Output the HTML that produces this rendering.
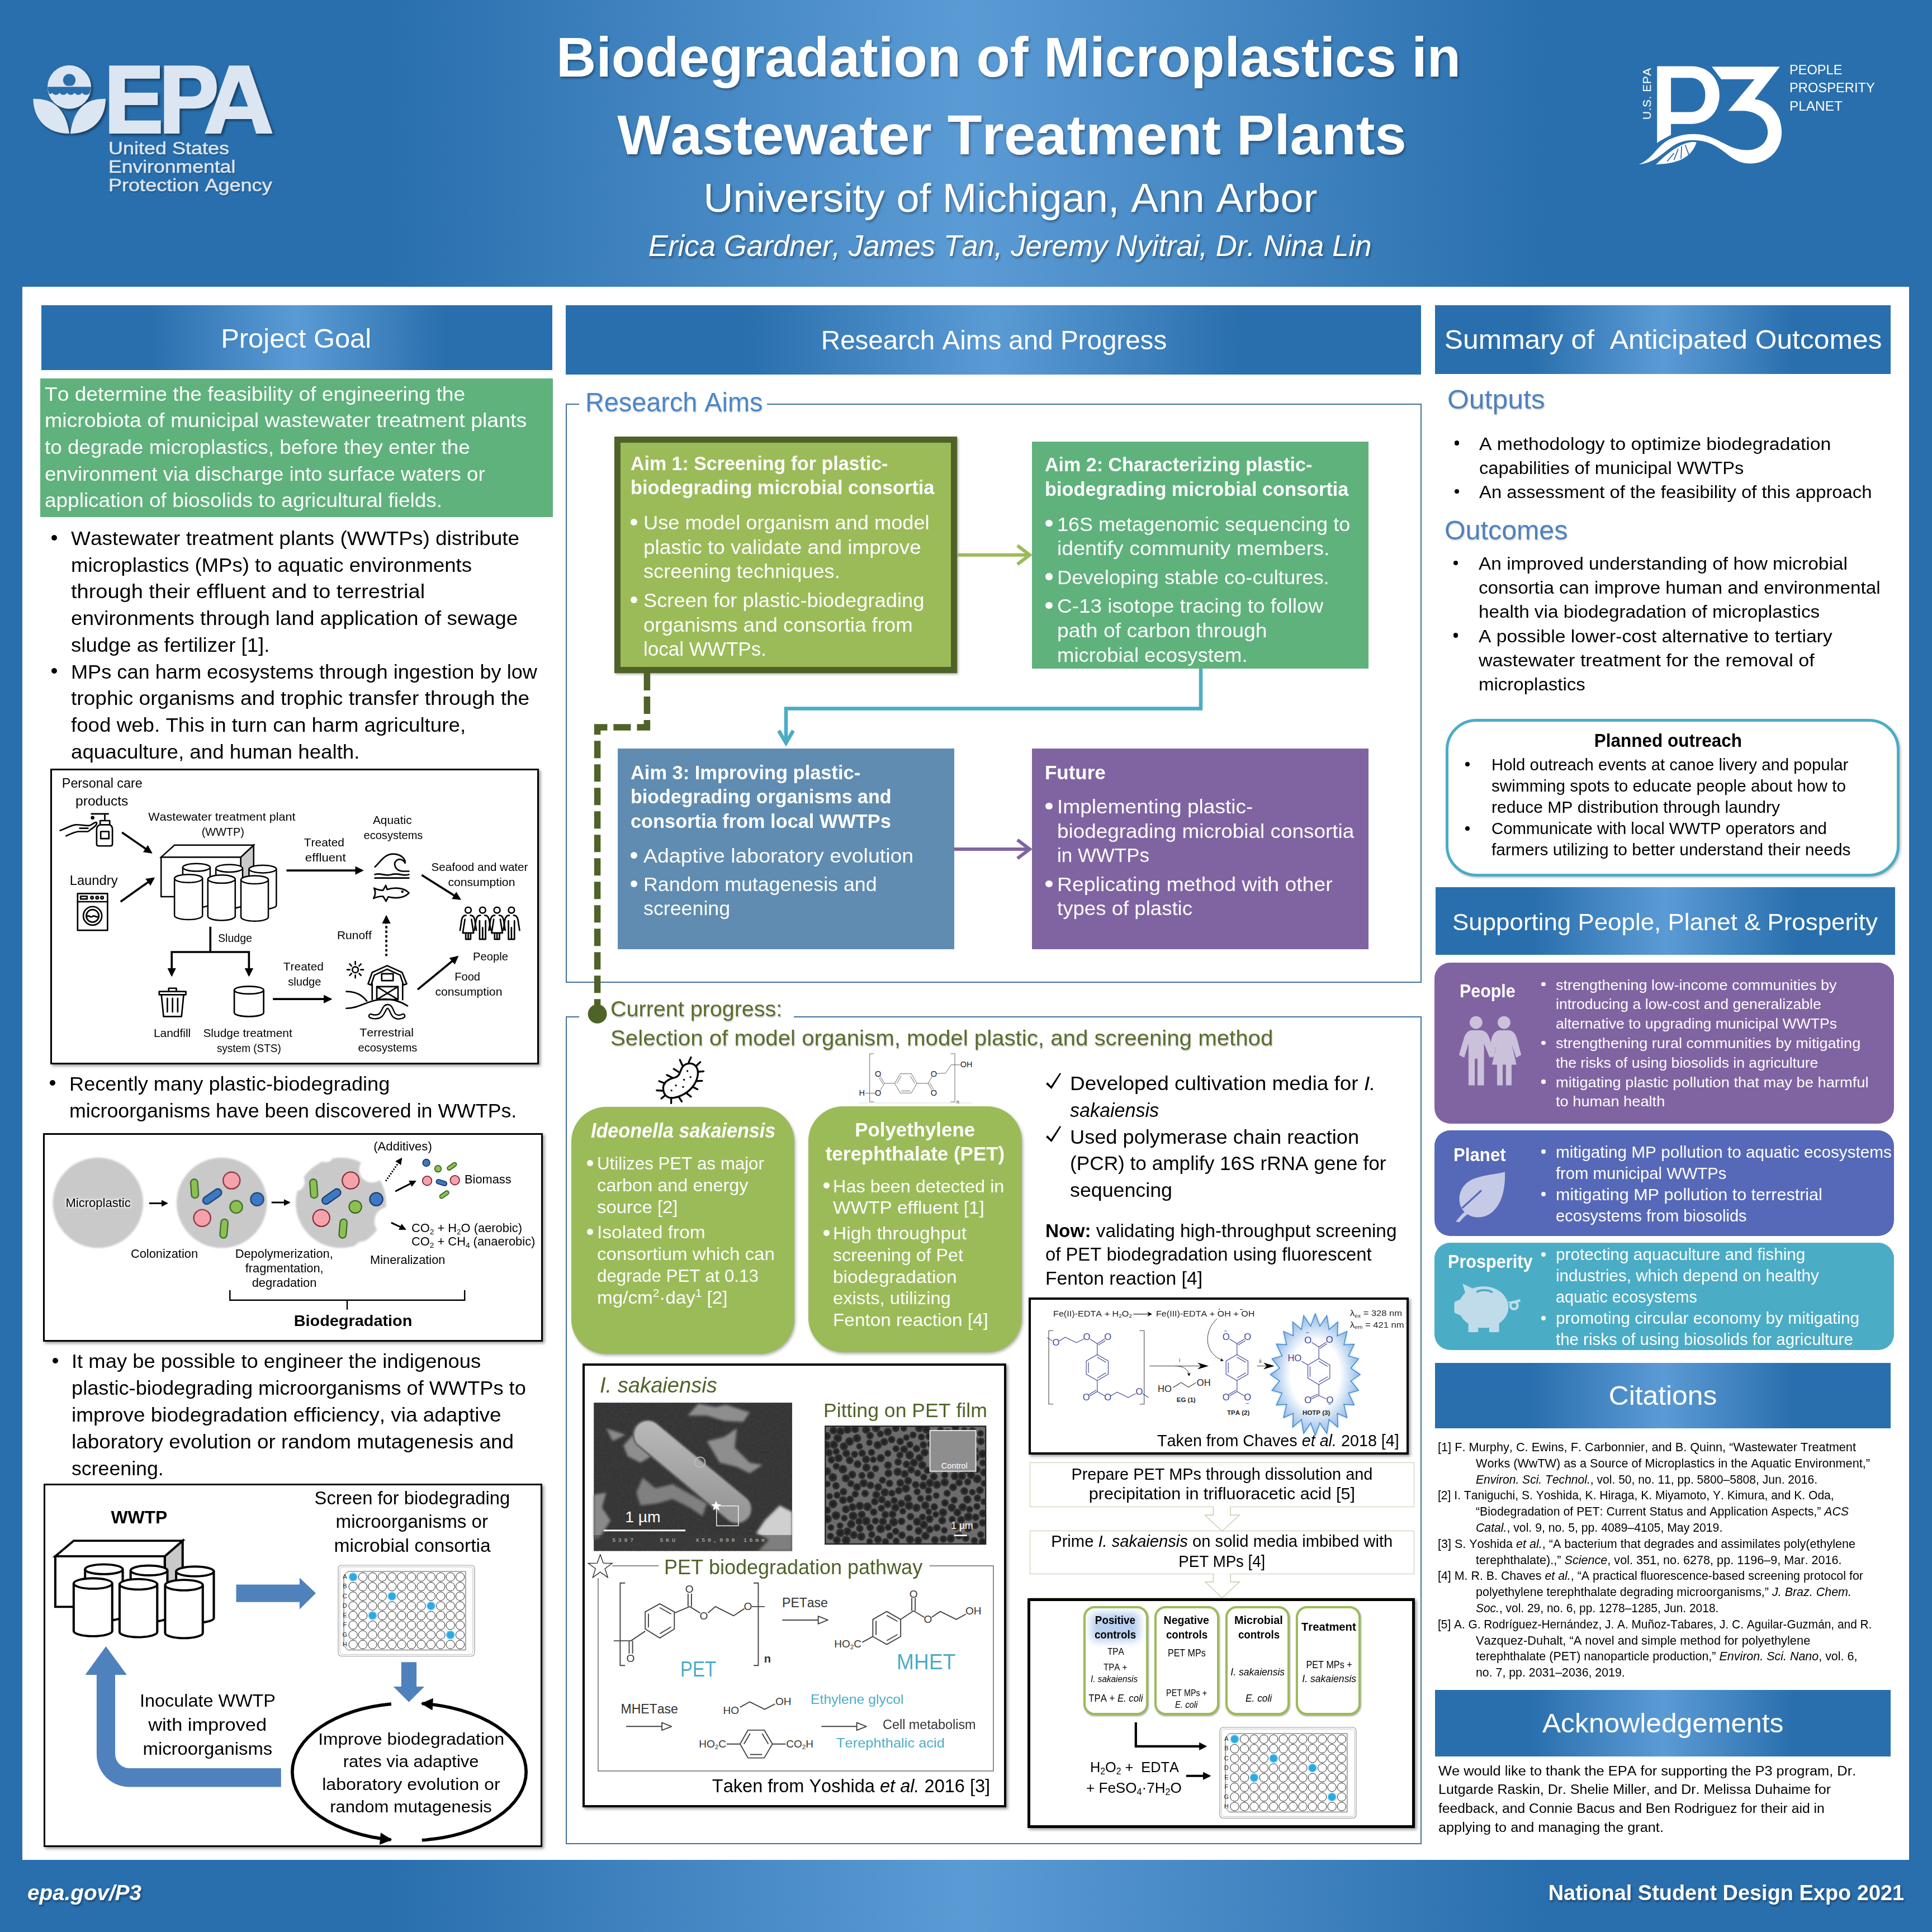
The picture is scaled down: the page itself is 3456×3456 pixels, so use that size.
<!DOCTYPE html>
<html><head><meta charset="utf-8"><title>Poster</title><style>html,body{margin:0;padding:0}
body{width:3456px;height:3456px;position:relative;overflow:hidden;background:linear-gradient(90deg,#296fad 0%,#296fad 20%,#5b9bd5 50%,#296fad 80%,#296fad 100%);font-family:"Liberation Sans",sans-serif;font-kerning:none}
.t{position:absolute;white-space:pre;margin:0}
.b{position:absolute;box-sizing:border-box}
</style></head><body>
<div class="b" style="left:40.0px;top:513.0px;width:3375.0px;height:2814.0px;background:#fff;"></div>
<div class="t " style="left:977.9px;top:37.0px;font-size:100.80px;line-height:131px;color:#fff;transform:scaleX(0.9793);transform-origin:center center;font-weight:bold;text-shadow:2px 3px 4px rgba(0,0,0,.38);">Biodegradation of Microplastics in</div>
<div class="t " style="left:1106.6px;top:175.6px;font-size:100.80px;line-height:131px;color:#fff;transform:scaleX(1.0038);transform-origin:center center;font-weight:bold;text-shadow:2px 3px 4px rgba(0,0,0,.38);">Wastewater Treatment Plants</div>
<div class="t " style="left:1272.8px;top:307.1px;font-size:72.00px;line-height:94px;color:#fff;transform:scaleX(1.0278);transform-origin:center center;text-shadow:2px 3px 4px rgba(0,0,0,.38);">University of Michigan, Ann Arbor</div>
<div class="t " style="left:1145.3px;top:403.7px;font-size:54.00px;line-height:70px;color:#fff;transform:scaleX(0.9776);transform-origin:center center;font-style:italic;text-shadow:2px 3px 4px rgba(0,0,0,.38);">Erica Gardner, James Tan, Jeremy Nyitrai, Dr. Nina Lin</div>
<div class="t " style="left:49.0px;top:3360.2px;font-size:39.60px;line-height:51px;color:#fff;transform:scaleX(0.9764);transform-origin:left center;font-weight:bold;font-style:italic;text-shadow:2px 3px 4px rgba(0,0,0,.38);">epa.gov/P3</div>
<div class="t " style="left:2741.9px;top:3360.0px;font-size:39.60px;line-height:51px;color:#fff;transform:scaleX(0.9583);transform-origin:right center;font-weight:bold;text-shadow:2px 3px 4px rgba(0,0,0,.38);">National Student Design Expo 2021</div>
<div class="b" style="left:73.7px;top:546.3px;width:914.1px;height:115.9px;background:linear-gradient(90deg,#296fad 0%,#296fad 21%,#5b9bd5 50%,#296fad 79%,#296fad 100%);"></div>
<div class="t " style="left:396.3px;top:574.4px;font-size:48.60px;line-height:63px;color:#fff;transform:scaleX(1.0056);transform-origin:center center;">Project Goal</div>
<div class="b" style="left:1012.0px;top:546.0px;width:1530.0px;height:123.8px;background:linear-gradient(90deg,#296fad 0%,#296fad 21%,#5b9bd5 50%,#296fad 79%,#296fad 100%);"></div>
<div class="t " style="left:1462.3px;top:576.7px;font-size:48.60px;line-height:63px;color:#fff;transform:scaleX(0.9784);transform-origin:center center;">Research Aims and Progress</div>
<div class="b" style="left:2566.8px;top:546.3px;width:815.6px;height:123.0px;background:linear-gradient(90deg,#296fad 0%,#296fad 21%,#5b9bd5 50%,#296fad 79%,#296fad 100%);"></div>
<div class="t " style="left:2593.1px;top:576.2px;font-size:48.60px;line-height:63px;color:#fff;transform:scaleX(1.0239);transform-origin:center center;">Summary of  Anticipated Outcomes</div>
<div class="b" style="left:2567.6px;top:1587.1px;width:822.2px;height:120.5px;background:linear-gradient(90deg,#296fad 0%,#296fad 21%,#5b9bd5 50%,#296fad 79%,#296fad 100%);"></div>
<div class="t " style="left:2604.4px;top:1620.8px;font-size:43.20px;line-height:56px;color:#fff;transform:scaleX(1.0159);transform-origin:center center;">Supporting People, Planet &amp; Prosperity</div>
<div class="b" style="left:2567.3px;top:2438.3px;width:814.5px;height:116.9px;background:linear-gradient(90deg,#296fad 0%,#296fad 21%,#5b9bd5 50%,#296fad 79%,#296fad 100%);"></div>
<div class="t " style="left:2880.1px;top:2465.4px;font-size:48.60px;line-height:63px;color:#fff;transform:scaleX(1.0238);transform-origin:center center;">Citations</div>
<div class="b" style="left:2567.3px;top:3023.0px;width:814.5px;height:118.7px;background:linear-gradient(90deg,#296fad 0%,#296fad 21%,#5b9bd5 50%,#296fad 79%,#296fad 100%);"></div>
<div class="t " style="left:2763.9px;top:3051.3px;font-size:48.60px;line-height:63px;color:#fff;transform:scaleX(1.0241);transform-origin:center center;">Acknowledgements</div>
<svg class="b" style="left:40.0px;top:80.0px;filter:drop-shadow(3px 3px 2px rgba(0,0,0,.45));" width="480.0" height="280.0" viewBox="0 0 480.0 280.0"><g transform="scale(0.24845)" fill="#dce6f2">
<circle cx="338" cy="305" r="157"/>
<path d="M78 390C200 385 310 440 338 640C180 640 80 540 78 390Z"/>
<path d="M600 390C478 385 372 440 345 640C500 640 598 540 600 390Z"/>
<g fill="#2a6dab"><circle cx="338" cy="255" r="45"/>
<path d="M182 302H494C494 318 490 335 484 348C472 366 442 366 430 345C418 366 388 366 376 345C364 366 334 366 322 345C310 366 280 366 268 345C256 366 226 366 214 345C205 360 195 355 190 345C185 330 182 315 182 302Z"/></g>
<rect x="181" y="296" width="314" height="7" />
<path d="M625 150H990V245H738V345H975V435H738V545H997V640H625Z"/>
<path d="M1020 150H1240C1350 150 1400 215 1400 305C1400 395 1350 460 1240 460H1132V640H1020ZM1132 240V372H1225C1270 372 1288 345 1288 306C1288 267 1270 240 1225 240Z" fill-rule="evenodd"/>
<path d="M1488 150H1632L1802 640H1683L1652 535H1462L1430 640H1313ZM1558 262L1490 445H1624Z" fill-rule="evenodd"/>
</g></svg>
<div class="t " style="left:193.5px;top:245.8px;font-size:31.00px;line-height:40px;color:#dce6f2;transform:scaleX(1.1611);transform-origin:left center;text-shadow:1px 2px 2px rgba(0,0,0,.3);-webkit-text-stroke:.5px #dce6f2;">United States</div>
<div class="t " style="left:193.5px;top:279.3px;font-size:31.00px;line-height:40px;color:#dce6f2;transform:scaleX(1.1470);transform-origin:left center;text-shadow:1px 2px 2px rgba(0,0,0,.3);-webkit-text-stroke:.5px #dce6f2;">Environmental</div>
<div class="t " style="left:193.5px;top:311.7px;font-size:31.00px;line-height:40px;color:#dce6f2;transform:scaleX(1.1633);transform-origin:left center;text-shadow:1px 2px 2px rgba(0,0,0,.3);-webkit-text-stroke:.5px #dce6f2;">Protection Agency</div>
<svg class="b" style="left:2920.0px;top:90.0px;" width="480.0" height="230.0" viewBox="0 0 480.0 230.0"><g transform="scale(0.24845)" fill="#fff" stroke="none">
<path d="M178 115H425C550 115 627 205 627 322C627 440 550 530 425 530H278V610C240 630 200 650 178 668ZM278 198V445H420C485 445 525 395 525 322C525 250 485 198 420 198Z" fill-rule="evenodd"/>
<path d="M572 118H1062L880 352C990 362 1075 460 1075 590C1075 720 975 815 850 815C720 815 680 720 560 670C470 635 360 640 290 690C210 745 160 810 45 822C150 780 170 690 270 640C380 590 500 590 600 640C700 690 740 718 830 718C910 718 975 665 975 590C975 500 900 440 800 436L690 436L880 208H640Z"/>
<path d="M170 822C300 815 420 790 462 662C400 650 300 690 170 822Z"/>
<g stroke="#2a6dab" stroke-width="7" fill="none"><path d="M250 800L300 740M300 790L330 710M350 780L355 690M410 760L380 680"/></g>
</g></svg>
<div class="t" style="left:2934px;top:214px;font-size:21px;line-height:24px;color:#fff;transform:rotate(-90deg);transform-origin:left top;letter-spacing:.5px;">U.S. EPA</div>
<div class="t " style="left:3200.7px;top:109.9px;font-size:23.50px;line-height:31px;color:#fff;transform:scaleX(1.0037);transform-origin:left center;">PEOPLE</div>
<div class="t " style="left:3200.7px;top:142.2px;font-size:23.50px;line-height:31px;color:#fff;transform:scaleX(1.0087);transform-origin:left center;">PROSPERITY</div>
<div class="t " style="left:3200.7px;top:175.0px;font-size:23.50px;line-height:31px;color:#fff;transform:scaleX(1.0380);transform-origin:left center;">PLANET</div>
<div class="b" style="left:71.6px;top:676.6px;width:917.3px;height:248.7px;background:#5fb27c;"></div>
<div class="t " style="left:79.7px;top:681.7px;font-size:35.64px;line-height:46px;color:#fff;transform:scaleX(1.0433);transform-origin:left center;">To determine the feasibility of engineering the</div>
<div class="t " style="left:79.7px;top:729.3px;font-size:35.64px;line-height:46px;color:#fff;transform:scaleX(1.0517);transform-origin:left center;">microbiota of municipal wastewater treatment plants</div>
<div class="t " style="left:79.7px;top:777.0px;font-size:35.64px;line-height:46px;color:#fff;transform:scaleX(1.0354);transform-origin:left center;">to degrade microplastics, before they enter the</div>
<div class="t " style="left:79.7px;top:824.6px;font-size:35.64px;line-height:46px;color:#fff;transform:scaleX(1.0278);transform-origin:left center;">environment via discharge into surface waters or</div>
<div class="t " style="left:79.7px;top:872.3px;font-size:35.64px;line-height:46px;color:#fff;transform:scaleX(1.0377);transform-origin:left center;">application of biosolids to agricultural fields.</div>
<div class="b" style="left:92.0px;top:956.7px;width:10.0px;height:10.0px;border-radius:50%;background:#000;"></div>
<div class="b" style="left:92.0px;top:1195.2px;width:10.0px;height:10.0px;border-radius:50%;background:#000;"></div>
<div class="t " style="left:127.0px;top:940.0px;font-size:35.64px;line-height:46px;color:#000;transform:scaleX(1.0390);transform-origin:left center;">Wastewater treatment plants (WWTPs) distribute</div>
<div class="t " style="left:127.0px;top:987.7px;font-size:35.64px;line-height:46px;color:#000;transform:scaleX(1.0260);transform-origin:left center;">microplastics (MPs) to aquatic environments</div>
<div class="t " style="left:127.0px;top:1035.4px;font-size:35.64px;line-height:46px;color:#000;transform:scaleX(1.0656);transform-origin:left center;">through their effluent and to terrestrial</div>
<div class="t " style="left:127.0px;top:1083.1px;font-size:35.64px;line-height:46px;color:#000;transform:scaleX(1.0321);transform-origin:left center;">environments through land application of sewage</div>
<div class="t " style="left:127.0px;top:1130.8px;font-size:35.64px;line-height:46px;color:#000;transform:scaleX(1.0254);transform-origin:left center;">sludge as fertilizer [1].</div>
<div class="t " style="left:127.0px;top:1178.5px;font-size:35.64px;line-height:46px;color:#000;transform:scaleX(1.0149);transform-origin:left center;">MPs can harm ecosystems through ingestion by low</div>
<div class="t " style="left:127.0px;top:1226.2px;font-size:35.64px;line-height:46px;color:#000;transform:scaleX(1.0407);transform-origin:left center;">trophic organisms and trophic transfer through the</div>
<div class="t " style="left:127.0px;top:1273.9px;font-size:35.64px;line-height:46px;color:#000;transform:scaleX(1.0306);transform-origin:left center;">food web. This in turn can harm agriculture,</div>
<div class="t " style="left:127.0px;top:1321.6px;font-size:35.64px;line-height:46px;color:#000;transform:scaleX(1.0307);transform-origin:left center;">aquaculture, and human health.</div>
<div class="b" style="left:89.0px;top:1932.4px;width:10.0px;height:10.0px;border-radius:50%;background:#000;"></div>
<div class="t " style="left:124.2px;top:1915.7px;font-size:35.64px;line-height:46px;color:#000;transform:scaleX(1.0159);transform-origin:left center;">Recently many plastic-biodegrading</div>
<div class="t " style="left:124.2px;top:1963.5px;font-size:35.64px;line-height:46px;color:#000;transform:scaleX(1.0030);transform-origin:left center;">microorganisms have been discovered in WWTPs.</div>
<div class="b" style="left:94.0px;top:2429.1px;width:10.0px;height:10.0px;border-radius:50%;background:#000;"></div>
<div class="t " style="left:128.0px;top:2412.4px;font-size:35.64px;line-height:46px;color:#000;transform:scaleX(1.0214);transform-origin:left center;">It may be possible to engineer the indigenous</div>
<div class="t " style="left:128.0px;top:2460.3px;font-size:35.64px;line-height:46px;color:#000;transform:scaleX(1.0162);transform-origin:left center;">plastic-biodegrading microorganisms of WWTPs to</div>
<div class="t " style="left:128.0px;top:2508.2px;font-size:35.64px;line-height:46px;color:#000;transform:scaleX(1.0376);transform-origin:left center;">improve biodegradation efficiency, via adaptive</div>
<div class="t " style="left:128.0px;top:2556.1px;font-size:35.64px;line-height:46px;color:#000;transform:scaleX(1.0347);transform-origin:left center;">laboratory evolution or random mutagenesis and</div>
<div class="t " style="left:128.0px;top:2604.0px;font-size:35.64px;line-height:46px;color:#000;transform:scaleX(1.0021);transform-origin:left center;">screening.</div>
<div class="b" style="left:90.0px;top:1374.5px;width:874.0px;height:529.5px;border:3.5px solid #000;background:#fff;box-shadow:3px 3px 5px rgba(0,0,0,.4);"></div>
<div class="b" style="left:77.0px;top:2026.5px;width:893.5px;height:373.7px;border:3.5px solid #000;background:#fff;box-shadow:3px 3px 5px rgba(0,0,0,.4);"></div>
<div class="b" style="left:78.0px;top:2654.0px;width:891.5px;height:650.0px;border:3.5px solid #000;background:#fff;box-shadow:3px 3px 5px rgba(0,0,0,.4);"></div>
<svg class="b" style="left:60.0px;top:1360.0px;" width="940.0" height="560.0" viewBox="0 0 940.0 560.0"><g transform="scale(0.48655)"><defs><marker id="ah" viewBox="0 0 10 10" refX="8" refY="5" markerWidth="4.2" markerHeight="4.2" orient="auto-start-reverse"><path d="M0 0L10 5L0 10z"/></marker></defs><g transform="translate(61.66 164.42) scale(0.4682)"><g stroke-linejoin="miter"><path d="M1495 410L1597 315V600L1495 690Z" fill="#c9c9c9" stroke="#000" stroke-width="11"/><path d="M870 410L975 315H1597L1495 410Z" fill="#fff" stroke="#000" stroke-width="11"/><rect x="870" y="410" width="625" height="310" fill="#fff" stroke="#000" stroke-width="11"/><path d="M1040.0 490.0V775.0A107.5 30.0 0 0 0 1255.0 775.0V490.0" fill="#fff" stroke="#000" stroke-width="11.0"/><ellipse cx="1147.5" cy="490.0" rx="107.5" ry="30.0" fill="#fff" stroke="#000" stroke-width="11.0"/><path d="M1300.0 497.0V782.0A105.0 30.0 0 0 0 1510.0 782.0V497.0" fill="#fff" stroke="#000" stroke-width="11.0"/><ellipse cx="1405.0" cy="497.0" rx="105.0" ry="30.0" fill="#fff" stroke="#000" stroke-width="11.0"/><path d="M1560.0 503.0V788.0A107.5 30.0 0 0 0 1775.0 788.0V503.0" fill="#fff" stroke="#000" stroke-width="11.0"/><ellipse cx="1667.5" cy="503.0" rx="107.5" ry="30.0" fill="#fff" stroke="#000" stroke-width="11.0"/><path d="M975.0 577.0V868.0A110.0 32.0 0 0 0 1195.0 868.0V577.0" fill="#fff" stroke="#000" stroke-width="11.0"/><ellipse cx="1085.0" cy="577.0" rx="110.0" ry="32.0" fill="#fff" stroke="#000" stroke-width="11.0"/><path d="M1237.0 582.0V874.0A107.5 32.0 0 0 0 1452.0 874.0V582.0" fill="#fff" stroke="#000" stroke-width="11.0"/><ellipse cx="1344.5" cy="582.0" rx="107.5" ry="32.0" fill="#fff" stroke="#000" stroke-width="11.0"/><path d="M1497.0 587.0V880.0A107.5 32.0 0 0 0 1712.0 880.0V587.0" fill="#fff" stroke="#000" stroke-width="11.0"/><ellipse cx="1604.5" cy="587.0" rx="107.5" ry="32.0" fill="#fff" stroke="#000" stroke-width="11.0"/></g></g><g fill="none" stroke="#000" stroke-width="7.5" stroke-linecap="butt">
<path d="M325 265L432 339" marker-end="url(#ah)"/><path d="M320 520L441 434" marker-end="url(#ah)"/>
<path d="M930 405H1208" marker-end="url(#ah)"/><path d="M1427 422L1567 510" marker-end="url(#ah)"/>
<path d="M880 878H1092" marker-end="url(#ah)"/><path d="M1412 843L1558 723" marker-end="url(#ah)"/>
<path d="M650 612V705M508 789V705H792V789" /><path d="M508 780V790" marker-end="url(#ah)"/><path d="M792 780V790" marker-end="url(#ah)"/>
<path d="M1297 720V590" stroke-dasharray="9 8"/><path d="M1297 590V575" marker-end="url(#ah)"/>
</g>
<g fill="none" stroke="#000" stroke-width="5.5" stroke-linecap="round" stroke-linejoin="round">
<!-- soap -->
<path d="M213 197H275M262 197V222M245 222H280V237H245ZM245 237C236 240 232 246 232 254V308Q232 315 239 315H283Q290 315 290 308V254C290 246 286 240 280 237M247 262H277V288H247Z"/>
<circle cx="217" cy="211" r="4" fill="#000"/>
<path d="M98 258C120 250 140 238 155 237C175 236 190 242 205 240C215 238 222 228 230 228C236 230 230 240 222 246L200 262H165C150 263 135 272 120 278M170 250H200"/>
<!-- washer -->
<rect x="162" y="490" width="110" height="135"/><path d="M162 520H272"/><rect x="173" y="500" width="24" height="10"/>
<circle cx="215" cy="505" r="4.5"/><circle cx="234" cy="505" r="4.5"/><circle cx="252" cy="505" r="4.5"/>
<circle cx="217" cy="572" r="34"/><circle cx="217" cy="572" r="23"/><path d="M196 574C203 566 210 582 217 574C224 566 231 582 238 574"/>
<!-- wave -->
<path d="M1255 392C1275 375 1290 340 1330 345C1355 348 1368 365 1366 378C1360 365 1345 360 1335 368C1320 380 1330 405 1355 408H1380M1255 420C1275 412 1295 428 1317 420C1340 412 1360 428 1380 420M1255 433H1380"/>
<!-- fish -->
<path d="M1380 488C1365 470 1330 465 1300 475L1295 460L1285 478C1275 478 1262 475 1252 470C1258 482 1258 494 1250 508C1262 502 1275 500 1285 500L1296 518L1304 502C1335 510 1365 505 1380 488Z"/><circle cx="1356" cy="483" r="2" fill="#000"/>
<!-- trash -->
<path d="M462 850H560V862H462ZM470 862L478 942H544L552 862M497 850V838H525V850M492 875V925M511 875V925M530 875V925"/>
<!-- STS cyl -->
<path d="M738 845V928A54 14 0 0 0 846 928V845"/><ellipse cx="792" cy="845" rx="54" ry="14"/>
<!-- farm -->
<circle cx="1183" cy="770" r="11"/><path d="M1183 750V740M1183 790V800M1163 770H1153M1203 770H1213M1169 756L1162 749M1197 756L1204 749M1169 784L1162 791M1197 784L1204 791"/>
<path d="M1230 822L1245 780L1300 755L1355 780L1372 822L1360 826L1348 790L1300 768L1253 790L1241 826ZM1245 822V880M1357 822V880M1280 785H1322V810H1280ZM1262 832H1340V880H1262ZM1262 832L1340 880M1340 832L1262 880"/>
<path d="M1150 850C1185 850 1210 865 1225 885M1150 912C1200 912 1230 880 1290 878C1330 878 1355 890 1375 903"/>
</g>
<path d="M1240 940C1250 945 1268 945 1278 935C1290 920 1290 905 1302 905C1315 905 1315 925 1325 937C1335 947 1350 945 1358 940" fill="none" stroke="#000" stroke-width="19" stroke-linecap="round"/>
<path d="M1240 940C1250 945 1268 945 1278 935C1290 920 1290 905 1302 905C1315 905 1315 925 1325 937C1335 947 1350 945 1358 940" fill="none" stroke="#fff" stroke-width="9" stroke-linecap="round"/>
<g fill="none" stroke="#000" stroke-width="5.5" stroke-linecap="round" stroke-linejoin="round"><circle cx="1598" cy="551" r="11"/><path d="M1590 570C1578 570 1574 580 1572 600L1568 625M1606 570C1618 570 1622 580 1624 600L1628 625M1586 585L1578 635H1618L1610 585M1589 635V658H1607V635M1598 635V658"/><circle cx="1651" cy="551" r="11"/><path d="M1643 570C1631 570 1627 580 1625 600L1621 625M1659 570C1671 570 1675 580 1677 600L1681 625M1640 590V658H1662V590M1651 615V658"/><circle cx="1704" cy="551" r="11"/><path d="M1696 570C1684 570 1680 580 1678 600L1674 625M1712 570C1724 570 1728 580 1730 600L1734 625M1692 585L1684 635H1724L1716 585M1695 635V658H1713V635M1704 635V658"/><circle cx="1757" cy="551" r="11"/><path d="M1749 570C1737 570 1733 580 1731 600L1727 625M1765 570C1777 570 1781 580 1783 600L1787 625M1746 590V658H1768V590M1757 615V658"/></g></g></svg>
<div class="t " style="left:109.9px;top:1386.4px;font-size:23.58px;line-height:31px;color:#000;transform:scaleX(0.9885);transform-origin:center center;">Personal care</div>
<div class="t " style="left:137.4px;top:1417.6px;font-size:23.58px;line-height:31px;color:#000;transform:scaleX(1.0432);transform-origin:center center;">products</div>
<div class="t " style="left:273.3px;top:1448.0px;font-size:20.25px;line-height:26px;color:#000;transform:scaleX(1.0633);transform-origin:center center;">Wastewater treatment plant</div>
<div class="t " style="left:360.3px;top:1474.8px;font-size:20.25px;line-height:26px;color:#000;transform:scaleX(0.9830);transform-origin:center center;">(WWTP)</div>
<div class="t " style="left:667.5px;top:1454.3px;font-size:20.25px;line-height:26px;color:#000;transform:scaleX(1.0312);transform-origin:center center;">Aquatic</div>
<div class="t " style="left:649.8px;top:1481.1px;font-size:20.25px;line-height:26px;color:#000;transform:scaleX(0.9903);transform-origin:center center;">ecosystems</div>
<div class="t " style="left:545.1px;top:1494.2px;font-size:20.25px;line-height:26px;color:#000;transform:scaleX(1.0333);transform-origin:center center;">Treated</div>
<div class="t " style="left:548.6px;top:1521.0px;font-size:20.25px;line-height:26px;color:#000;transform:scaleX(1.0971);transform-origin:center center;">effluent</div>
<div class="t " style="left:773.4px;top:1538.0px;font-size:20.25px;line-height:26px;color:#000;transform:scaleX(1.0163);transform-origin:center center;">Seafood and water</div>
<div class="t " style="left:803.5px;top:1564.8px;font-size:20.25px;line-height:26px;color:#000;transform:scaleX(1.0452);transform-origin:center center;">consumption</div>
<div class="t " style="left:124.9px;top:1560.1px;font-size:23.58px;line-height:31px;color:#000;transform:scaleX(1.0075);transform-origin:center center;">Laundry</div>
<div class="t " style="left:389.0px;top:1665.0px;font-size:20.25px;line-height:26px;color:#000;transform:scaleX(0.9663);transform-origin:center center;">Sludge</div>
<div class="t " style="left:603.5px;top:1659.6px;font-size:20.25px;line-height:26px;color:#000;transform:scaleX(1.0365);transform-origin:center center;">Runoff</div>
<div class="t " style="left:845.9px;top:1697.6px;font-size:20.25px;line-height:26px;color:#000;transform:scaleX(0.9970);transform-origin:center center;">People</div>
<div class="t " style="left:507.7px;top:1716.1px;font-size:20.25px;line-height:26px;color:#000;transform:scaleX(1.0333);transform-origin:center center;">Treated</div>
<div class="t " style="left:515.3px;top:1742.8px;font-size:20.25px;line-height:26px;color:#000;transform:scaleX(0.9953);transform-origin:center center;">sludge</div>
<div class="t " style="left:812.5px;top:1734.1px;font-size:20.25px;line-height:26px;color:#000;transform:scaleX(0.9942);transform-origin:center center;">Food</div>
<div class="t " style="left:781.1px;top:1761.3px;font-size:20.25px;line-height:26px;color:#000;transform:scaleX(1.0452);transform-origin:center center;">consumption</div>
<div class="t " style="left:275.6px;top:1834.8px;font-size:20.25px;line-height:26px;color:#000;transform:scaleX(1.0322);transform-origin:center center;">Landfill</div>
<div class="t " style="left:366.3px;top:1834.8px;font-size:20.25px;line-height:26px;color:#000;transform:scaleX(1.0339);transform-origin:center center;">Sludge treatment</div>
<div class="t " style="left:384.0px;top:1861.6px;font-size:20.25px;line-height:26px;color:#000;transform:scaleX(0.9367);transform-origin:center center;">system (STS)</div>
<div class="t " style="left:646.1px;top:1833.8px;font-size:20.25px;line-height:26px;color:#000;transform:scaleX(1.0612);transform-origin:center center;">Terrestrial</div>
<div class="t " style="left:639.5px;top:1860.6px;font-size:20.25px;line-height:26px;color:#000;transform:scaleX(0.9903);transform-origin:center center;">ecosystems</div>
<svg class="b" style="left:60.0px;top:1900.0px;" width="940.0" height="520.0" viewBox="0 0 940.0 520.0"><g transform="scale(0.48655)"><defs><filter id="sf" x="-10%" y="-10%" width="120%" height="120%"><feGaussianBlur stdDeviation="3"/></filter><marker id="ah" viewBox="0 0 10 10" refX="8" refY="5" markerWidth="4.2" markerHeight="4.2" orient="auto-start-reverse"><path d="M0 0L10 5L0 10z"/></marker>
<mask id="bite"><rect x="900" y="300" width="500" height="450" fill="#fff"/>
<circle cx="1245" cy="395" r="48" fill="#000"/><circle cx="1305" cy="585" r="52" fill="#000"/><circle cx="962" cy="440" r="35" fill="#000"/><circle cx="1215" cy="700" r="42" fill="#000"/><circle cx="1075" cy="340" r="28" fill="#000"/></mask></defs><g fill="#c9c9c9" filter="url(#sf)"><circle cx="237" cy="517" r="166"/><circle cx="692" cy="517" r="166"/><circle cx="1130" cy="517" r="166" mask="url(#bite)"/></g><rect x="579.0" y="430.0" width="26.0" height="70.0" rx="13.0" transform="rotate(-4 592.0 465.0)" fill="#8cc152" stroke="#2f5d1e" stroke-width="4.0"/><circle cx="728.0" cy="435.0" r="31.0" fill="#f5a3ab" stroke="#7d1d2b" stroke-width="4.0"/><rect x="643.0" y="455.0" width="28.0" height="78.0" rx="14.0" transform="rotate(55 657.0 494.0)" fill="#3b79c4" stroke="#17305e" stroke-width="4.0"/><circle cx="822.0" cy="504.0" r="24.0" fill="#3b79c4" stroke="#17305e" stroke-width="4.0"/><circle cx="745.0" cy="532.0" r="23.0" fill="#8cc152" stroke="#2f5d1e" stroke-width="4.0"/><circle cx="620.0" cy="573.0" r="31.0" fill="#f5a3ab" stroke="#7d1d2b" stroke-width="4.0"/><rect x="687.0" y="577.0" width="26.0" height="70.0" rx="13.0" transform="rotate(5 700.0 612.0)" fill="#8cc152" stroke="#2f5d1e" stroke-width="4.0"/><rect x="1017.0" y="430.0" width="26.0" height="70.0" rx="13.0" transform="rotate(-4 1030.0 465.0)" fill="#8cc152" stroke="#2f5d1e" stroke-width="4.0"/><circle cx="1166.0" cy="435.0" r="31.0" fill="#f5a3ab" stroke="#7d1d2b" stroke-width="4.0"/><rect x="1081.0" y="455.0" width="28.0" height="78.0" rx="14.0" transform="rotate(55 1095.0 494.0)" fill="#3b79c4" stroke="#17305e" stroke-width="4.0"/><circle cx="1260.0" cy="504.0" r="24.0" fill="#3b79c4" stroke="#17305e" stroke-width="4.0"/><circle cx="1183.0" cy="532.0" r="23.0" fill="#8cc152" stroke="#2f5d1e" stroke-width="4.0"/><circle cx="1058.0" cy="573.0" r="31.0" fill="#f5a3ab" stroke="#7d1d2b" stroke-width="4.0"/><rect x="1125.0" y="577.0" width="26.0" height="70.0" rx="13.0" transform="rotate(5 1138.0 612.0)" fill="#8cc152" stroke="#2f5d1e" stroke-width="4.0"/><g fill="none" stroke="#000" stroke-width="6"><path d="M425 519H490" marker-end="url(#ah)"/><path d="M875 516H940" marker-end="url(#ah)"/>
<path d="M1330 475L1403 438" marker-end="url(#ah)"/><path d="M1315 590L1366 614" marker-end="url(#ah)"/>
<path d="M1295 437L1343 368" stroke-dasharray="5 5"/><path d="M1343 368L1352 355" marker-end="url(#ah)"/>
<path d="M722 838V875H1585V838M1153 875V910" stroke-width="5"/></g><circle cx="1444.0" cy="370.0" r="13.0" fill="#3b79c4" stroke="#17305e" stroke-width="3.5"/><circle cx="1487.0" cy="392.0" r="12.0" fill="#8cc152" stroke="#2f5d1e" stroke-width="3.5"/><rect x="1531.0" y="364.0" width="14.0" height="38.0" rx="7.0" transform="rotate(55 1538.0 383.0)" fill="#8cc152" stroke="#2f5d1e" stroke-width="3.5"/><circle cx="1447.0" cy="436.0" r="17.0" fill="#f5a3ab" stroke="#7d1d2b" stroke-width="3.5"/><rect x="1492.0" y="423.0" width="16.0" height="40.0" rx="8.0" transform="rotate(-72 1500.0 443.0)" fill="#3b79c4" stroke="#17305e" stroke-width="3.5"/><circle cx="1549.0" cy="434.0" r="17.0" fill="#f5a3ab" stroke="#7d1d2b" stroke-width="3.5"/><rect x="1503.0" y="468.0" width="14.0" height="38.0" rx="7.0" transform="rotate(55 1510.0 487.0)" fill="#8cc152" stroke="#2f5d1e" stroke-width="3.5"/></g></svg>
<div class="t " style="left:117.8px;top:2138.3px;font-size:21.80px;line-height:28px;color:#000;transform:scaleX(1.0106);transform-origin:center center;text-shadow:0 0 4px #fff,0 0 4px #fff,0 0 6px #fff;">Microplastic</div>
<div class="t " style="left:233.6px;top:2228.8px;font-size:21.80px;line-height:28px;color:#000;transform:scaleX(1.0018);transform-origin:center center;">Colonization</div>
<div class="t " style="left:421.4px;top:2228.8px;font-size:21.80px;line-height:28px;color:#000;transform:scaleX(1.0041);transform-origin:center center;">Depolymerization,</div>
<div class="t " style="left:438.9px;top:2255.1px;font-size:21.80px;line-height:28px;color:#000;transform:scaleX(1.0053);transform-origin:center center;">fragmentation,</div>
<div class="t " style="left:451.0px;top:2280.9px;font-size:21.80px;line-height:28px;color:#000;transform:scaleX(1.0055);transform-origin:center center;">degradation</div>
<div class="t " style="left:661.8px;top:2240.0px;font-size:21.80px;line-height:28px;color:#000;transform:scaleX(0.9985);transform-origin:center center;">Mineralization</div>
<div class="t " style="left:668.8px;top:2037.1px;font-size:21.80px;line-height:28px;color:#000;transform:scaleX(1.0157);transform-origin:center center;">(Additives)</div>
<div class="t " style="left:831.2px;top:2095.5px;font-size:21.80px;line-height:28px;color:#000;transform:scaleX(1.0013);transform-origin:left center;">Biomass</div>
<div class="t " style="left:736.3px;top:2183.1px;font-size:21.80px;line-height:28px;color:#000;transform:scaleX(1.0033);transform-origin:left center;">CO<span style="font-size:62%;position:relative;top:3.5px;">2</span> + H<span style="font-size:62%;position:relative;top:3.5px;">2</span>O (aerobic)</div>
<div class="t " style="left:736.3px;top:2207.4px;font-size:21.80px;line-height:28px;color:#000;transform:scaleX(1.0046);transform-origin:left center;">CO<span style="font-size:62%;position:relative;top:3.5px;">2</span> + CH<span style="font-size:62%;position:relative;top:3.5px;">4</span> (anaerobic)</div>
<div class="t " style="left:527.2px;top:2344.1px;font-size:28.50px;line-height:37px;color:#000;transform:scaleX(1.0124);transform-origin:center center;font-weight:bold;">Biodegradation</div>
<svg class="b" style="left:60.0px;top:2400.0px;" width="940.0" height="920.0" viewBox="0 0 940.0 920.0"><g transform="scale(0.48655)"><defs><marker id="ah" viewBox="0 0 10 10" refX="8" refY="5" markerWidth="4.2" markerHeight="4.2" orient="auto-start-reverse"><path d="M0 0L10 5L0 10z"/></marker></defs><g transform="translate(-480.3 543.1) scale(0.644 0.5997)"><g stroke-linejoin="miter"><path d="M1495 410L1597 315V600L1495 690Z" fill="#c9c9c9" stroke="#000" stroke-width="13"/><path d="M870 410L975 315H1597L1495 410Z" fill="#fff" stroke="#000" stroke-width="13"/><rect x="870" y="410" width="625" height="310" fill="#fff" stroke="#000" stroke-width="13"/><path d="M1040.0 490.0V775.0A107.5 30.0 0 0 0 1255.0 775.0V490.0" fill="#fff" stroke="#000" stroke-width="13.0"/><ellipse cx="1147.5" cy="490.0" rx="107.5" ry="30.0" fill="#fff" stroke="#000" stroke-width="13.0"/><path d="M1300.0 497.0V782.0A105.0 30.0 0 0 0 1510.0 782.0V497.0" fill="#fff" stroke="#000" stroke-width="13.0"/><ellipse cx="1405.0" cy="497.0" rx="105.0" ry="30.0" fill="#fff" stroke="#000" stroke-width="13.0"/><path d="M1560.0 503.0V788.0A107.5 30.0 0 0 0 1775.0 788.0V503.0" fill="#fff" stroke="#000" stroke-width="13.0"/><ellipse cx="1667.5" cy="503.0" rx="107.5" ry="30.0" fill="#fff" stroke="#000" stroke-width="13.0"/><path d="M975.0 577.0V868.0A110.0 32.0 0 0 0 1195.0 868.0V577.0" fill="#fff" stroke="#000" stroke-width="13.0"/><ellipse cx="1085.0" cy="577.0" rx="110.0" ry="32.0" fill="#fff" stroke="#000" stroke-width="13.0"/><path d="M1237.0 582.0V874.0A107.5 32.0 0 0 0 1452.0 874.0V582.0" fill="#fff" stroke="#000" stroke-width="13.0"/><ellipse cx="1344.5" cy="582.0" rx="107.5" ry="32.0" fill="#fff" stroke="#000" stroke-width="13.0"/><path d="M1497.0 587.0V880.0A107.5 32.0 0 0 0 1712.0 880.0V587.0" fill="#fff" stroke="#000" stroke-width="13.0"/><ellipse cx="1604.5" cy="587.0" rx="107.5" ry="32.0" fill="#fff" stroke="#000" stroke-width="13.0"/></g></g><path d="M745 893H978V868L1038 925L978 984V957H745Z" fill="#4f81bd"/><path d="M1352 1178H1408V1268H1437L1380 1325L1323 1268H1352Z" fill="#4f81bd"/><path d="M910 1568H352A52 52 0 0 1 300 1516V1225H343L266 1120L190 1225H232V1516A120 120 0 0 0 352 1637H910Z" fill="#4f81bd"/><g fill="none" stroke="#000" stroke-width="11.7">
<path d="M1315.0 1332.0A429.8 252.6 0 0 0 1314.0 1831.1" marker-end="url(#ah2)"/><path d="M1428.0 1832.7A429.8 252.6 0 0 0 1428.0 1330.5" marker-end="url(#ah2)"/></g>
<defs><marker id="ah2" viewBox="0 0 10 10" refX="9" refY="5" markerWidth="4.2" markerHeight="3.8" orient="auto"><path d="M0 0L10 5L0 10z"/></marker></defs></g></svg>
<div class="t " style="left:197.9px;top:2692.9px;font-size:32.13px;line-height:42px;color:#000;transform:scaleX(0.9917);transform-origin:center center;font-weight:bold;">WWTP</div>
<div class="t " style="left:564.8px;top:2658.8px;font-size:32.31px;line-height:42px;color:#000;transform:scaleX(1.0138);transform-origin:center center;">Screen for biodegrading</div>
<div class="t " style="left:604.4px;top:2701.3px;font-size:32.31px;line-height:42px;color:#000;transform:scaleX(1.0255);transform-origin:center center;">microorganisms or</div>
<div class="t " style="left:602.6px;top:2743.9px;font-size:32.31px;line-height:42px;color:#000;transform:scaleX(1.0400);transform-origin:center center;">microbial consortia</div>
<div class="t " style="left:250.9px;top:3021.3px;font-size:32.13px;line-height:42px;color:#000;transform:scaleX(1.0076);transform-origin:center center;">Inoculate WWTP</div>
<div class="t " style="left:272.3px;top:3064.4px;font-size:32.13px;line-height:42px;color:#000;transform:scaleX(1.0690);transform-origin:center center;">with improved</div>
<div class="t " style="left:258.0px;top:3107.4px;font-size:32.13px;line-height:42px;color:#000;transform:scaleX(1.0216);transform-origin:center center;">microorganisms</div>
<div class="t " style="left:575.5px;top:3089.5px;font-size:30.42px;line-height:40px;color:#000;transform:scaleX(1.0420);transform-origin:center center;">Improve biodegradation</div>
<div class="t " style="left:616.1px;top:3130.1px;font-size:30.42px;line-height:40px;color:#000;transform:scaleX(1.0188);transform-origin:center center;">rates via adaptive</div>
<div class="t " style="left:584.8px;top:3170.6px;font-size:30.42px;line-height:40px;color:#000;transform:scaleX(1.0589);transform-origin:center center;">laboratory evolution or</div>
<div class="t " style="left:593.3px;top:3211.1px;font-size:30.42px;line-height:40px;color:#000;transform:scaleX(1.0200);transform-origin:center center;">random mutagenesis</div>
<svg class="b" style="left:604.0px;top:2799.0px;" width="246.0" height="164.5" viewBox="0 0 246.0 164.5"><rect x="1" y="1" width="244.0" height="162.5" rx="6" fill="#fff" stroke="#9a9a9a" stroke-width="1.2"/><rect x="4" y="4" width="238.0" height="156.5" rx="5" fill="none" stroke="#bdbdbd" stroke-width="1"/><path d="M11.0 20.0V144.5L18.0 152.5H229.0V12.0H18.0Z" fill="#fff" stroke="#555" stroke-width="1"/><text x="12.8" y="25.1" font-size="11" fill="#222" text-anchor="middle" font-family="Liberation Sans">A</text><circle cx="27.6" cy="21.9" r="7.3" fill="#29abe2" stroke="#8fd3f0" stroke-width="1.6"/><circle cx="45.0" cy="21.9" r="7.7" fill="#fff" stroke="#222" stroke-width="1"/><circle cx="62.4" cy="21.9" r="7.7" fill="#fff" stroke="#222" stroke-width="1"/><circle cx="79.8" cy="21.9" r="7.7" fill="#fff" stroke="#222" stroke-width="1"/><circle cx="97.2" cy="21.9" r="7.7" fill="#fff" stroke="#222" stroke-width="1"/><circle cx="114.6" cy="21.9" r="7.7" fill="#fff" stroke="#222" stroke-width="1"/><circle cx="132.1" cy="21.9" r="7.7" fill="#fff" stroke="#222" stroke-width="1"/><circle cx="149.5" cy="21.9" r="7.7" fill="#fff" stroke="#222" stroke-width="1"/><circle cx="166.9" cy="21.9" r="7.7" fill="#fff" stroke="#222" stroke-width="1"/><circle cx="184.3" cy="21.9" r="7.7" fill="#fff" stroke="#222" stroke-width="1"/><circle cx="201.7" cy="21.9" r="7.7" fill="#fff" stroke="#222" stroke-width="1"/><circle cx="219.1" cy="21.9" r="7.7" fill="#fff" stroke="#222" stroke-width="1"/><text x="12.8" y="42.4" font-size="11" fill="#222" text-anchor="middle" font-family="Liberation Sans">B</text><circle cx="27.6" cy="39.2" r="7.7" fill="#fff" stroke="#222" stroke-width="1"/><circle cx="45.0" cy="39.2" r="7.7" fill="#fff" stroke="#222" stroke-width="1"/><circle cx="62.4" cy="39.2" r="7.7" fill="#fff" stroke="#222" stroke-width="1"/><circle cx="79.8" cy="39.2" r="7.7" fill="#fff" stroke="#222" stroke-width="1"/><circle cx="97.2" cy="39.2" r="7.7" fill="#fff" stroke="#222" stroke-width="1"/><circle cx="114.6" cy="39.2" r="7.7" fill="#fff" stroke="#222" stroke-width="1"/><circle cx="132.1" cy="39.2" r="7.7" fill="#fff" stroke="#222" stroke-width="1"/><circle cx="149.5" cy="39.2" r="7.7" fill="#fff" stroke="#222" stroke-width="1"/><circle cx="166.9" cy="39.2" r="7.7" fill="#fff" stroke="#222" stroke-width="1"/><circle cx="184.3" cy="39.2" r="7.7" fill="#fff" stroke="#222" stroke-width="1"/><circle cx="201.7" cy="39.2" r="7.7" fill="#fff" stroke="#222" stroke-width="1"/><circle cx="219.1" cy="39.2" r="7.7" fill="#fff" stroke="#222" stroke-width="1"/><text x="12.8" y="59.6" font-size="11" fill="#222" text-anchor="middle" font-family="Liberation Sans">C</text><circle cx="27.6" cy="56.4" r="7.7" fill="#fff" stroke="#222" stroke-width="1"/><circle cx="45.0" cy="56.4" r="7.7" fill="#fff" stroke="#222" stroke-width="1"/><circle cx="62.4" cy="56.4" r="7.7" fill="#fff" stroke="#222" stroke-width="1"/><circle cx="79.8" cy="56.4" r="7.7" fill="#fff" stroke="#222" stroke-width="1"/><circle cx="97.2" cy="56.4" r="7.3" fill="#29abe2" stroke="#8fd3f0" stroke-width="1.6"/><circle cx="114.6" cy="56.4" r="7.7" fill="#fff" stroke="#222" stroke-width="1"/><circle cx="132.1" cy="56.4" r="7.7" fill="#fff" stroke="#222" stroke-width="1"/><circle cx="149.5" cy="56.4" r="7.7" fill="#fff" stroke="#222" stroke-width="1"/><circle cx="166.9" cy="56.4" r="7.7" fill="#fff" stroke="#222" stroke-width="1"/><circle cx="184.3" cy="56.4" r="7.7" fill="#fff" stroke="#222" stroke-width="1"/><circle cx="201.7" cy="56.4" r="7.7" fill="#fff" stroke="#222" stroke-width="1"/><circle cx="219.1" cy="56.4" r="7.7" fill="#fff" stroke="#222" stroke-width="1"/><text x="12.8" y="76.9" font-size="11" fill="#222" text-anchor="middle" font-family="Liberation Sans">D</text><circle cx="27.6" cy="73.7" r="7.7" fill="#fff" stroke="#222" stroke-width="1"/><circle cx="45.0" cy="73.7" r="7.7" fill="#fff" stroke="#222" stroke-width="1"/><circle cx="62.4" cy="73.7" r="7.7" fill="#fff" stroke="#222" stroke-width="1"/><circle cx="79.8" cy="73.7" r="7.7" fill="#fff" stroke="#222" stroke-width="1"/><circle cx="97.2" cy="73.7" r="7.7" fill="#fff" stroke="#222" stroke-width="1"/><circle cx="114.6" cy="73.7" r="7.7" fill="#fff" stroke="#222" stroke-width="1"/><circle cx="132.1" cy="73.7" r="7.7" fill="#fff" stroke="#222" stroke-width="1"/><circle cx="149.5" cy="73.7" r="7.7" fill="#fff" stroke="#222" stroke-width="1"/><circle cx="166.9" cy="73.7" r="7.3" fill="#29abe2" stroke="#8fd3f0" stroke-width="1.6"/><circle cx="184.3" cy="73.7" r="7.7" fill="#fff" stroke="#222" stroke-width="1"/><circle cx="201.7" cy="73.7" r="7.7" fill="#fff" stroke="#222" stroke-width="1"/><circle cx="219.1" cy="73.7" r="7.7" fill="#fff" stroke="#222" stroke-width="1"/><text x="12.8" y="94.2" font-size="11" fill="#222" text-anchor="middle" font-family="Liberation Sans">E</text><circle cx="27.6" cy="91.0" r="7.7" fill="#fff" stroke="#222" stroke-width="1"/><circle cx="45.0" cy="91.0" r="7.7" fill="#fff" stroke="#222" stroke-width="1"/><circle cx="62.4" cy="91.0" r="7.3" fill="#29abe2" stroke="#8fd3f0" stroke-width="1.6"/><circle cx="79.8" cy="91.0" r="7.7" fill="#fff" stroke="#222" stroke-width="1"/><circle cx="97.2" cy="91.0" r="7.7" fill="#fff" stroke="#222" stroke-width="1"/><circle cx="114.6" cy="91.0" r="7.7" fill="#fff" stroke="#222" stroke-width="1"/><circle cx="132.1" cy="91.0" r="7.7" fill="#fff" stroke="#222" stroke-width="1"/><circle cx="149.5" cy="91.0" r="7.7" fill="#fff" stroke="#222" stroke-width="1"/><circle cx="166.9" cy="91.0" r="7.7" fill="#fff" stroke="#222" stroke-width="1"/><circle cx="184.3" cy="91.0" r="7.7" fill="#fff" stroke="#222" stroke-width="1"/><circle cx="201.7" cy="91.0" r="7.7" fill="#fff" stroke="#222" stroke-width="1"/><circle cx="219.1" cy="91.0" r="7.7" fill="#fff" stroke="#222" stroke-width="1"/><text x="12.8" y="111.4" font-size="11" fill="#222" text-anchor="middle" font-family="Liberation Sans">F</text><circle cx="27.6" cy="108.2" r="7.7" fill="#fff" stroke="#222" stroke-width="1"/><circle cx="45.0" cy="108.2" r="7.7" fill="#fff" stroke="#222" stroke-width="1"/><circle cx="62.4" cy="108.2" r="7.7" fill="#fff" stroke="#222" stroke-width="1"/><circle cx="79.8" cy="108.2" r="7.7" fill="#fff" stroke="#222" stroke-width="1"/><circle cx="97.2" cy="108.2" r="7.7" fill="#fff" stroke="#222" stroke-width="1"/><circle cx="114.6" cy="108.2" r="7.7" fill="#fff" stroke="#222" stroke-width="1"/><circle cx="132.1" cy="108.2" r="7.7" fill="#fff" stroke="#222" stroke-width="1"/><circle cx="149.5" cy="108.2" r="7.7" fill="#fff" stroke="#222" stroke-width="1"/><circle cx="166.9" cy="108.2" r="7.7" fill="#fff" stroke="#222" stroke-width="1"/><circle cx="184.3" cy="108.2" r="7.7" fill="#fff" stroke="#222" stroke-width="1"/><circle cx="201.7" cy="108.2" r="7.7" fill="#fff" stroke="#222" stroke-width="1"/><circle cx="219.1" cy="108.2" r="7.7" fill="#fff" stroke="#222" stroke-width="1"/><text x="12.8" y="128.7" font-size="11" fill="#222" text-anchor="middle" font-family="Liberation Sans">G</text><circle cx="27.6" cy="125.5" r="7.7" fill="#fff" stroke="#222" stroke-width="1"/><circle cx="45.0" cy="125.5" r="7.7" fill="#fff" stroke="#222" stroke-width="1"/><circle cx="62.4" cy="125.5" r="7.7" fill="#fff" stroke="#222" stroke-width="1"/><circle cx="79.8" cy="125.5" r="7.7" fill="#fff" stroke="#222" stroke-width="1"/><circle cx="97.2" cy="125.5" r="7.7" fill="#fff" stroke="#222" stroke-width="1"/><circle cx="114.6" cy="125.5" r="7.7" fill="#fff" stroke="#222" stroke-width="1"/><circle cx="132.1" cy="125.5" r="7.7" fill="#fff" stroke="#222" stroke-width="1"/><circle cx="149.5" cy="125.5" r="7.7" fill="#fff" stroke="#222" stroke-width="1"/><circle cx="166.9" cy="125.5" r="7.7" fill="#fff" stroke="#222" stroke-width="1"/><circle cx="184.3" cy="125.5" r="7.7" fill="#fff" stroke="#222" stroke-width="1"/><circle cx="201.7" cy="125.5" r="7.3" fill="#29abe2" stroke="#8fd3f0" stroke-width="1.6"/><circle cx="219.1" cy="125.5" r="7.7" fill="#fff" stroke="#222" stroke-width="1"/><text x="12.8" y="146.0" font-size="11" fill="#222" text-anchor="middle" font-family="Liberation Sans">H</text><circle cx="27.6" cy="142.8" r="7.7" fill="#fff" stroke="#222" stroke-width="1"/><circle cx="45.0" cy="142.8" r="7.7" fill="#fff" stroke="#222" stroke-width="1"/><circle cx="62.4" cy="142.8" r="7.7" fill="#fff" stroke="#222" stroke-width="1"/><circle cx="79.8" cy="142.8" r="7.7" fill="#fff" stroke="#222" stroke-width="1"/><circle cx="97.2" cy="142.8" r="7.7" fill="#fff" stroke="#222" stroke-width="1"/><circle cx="114.6" cy="142.8" r="7.7" fill="#fff" stroke="#222" stroke-width="1"/><circle cx="132.1" cy="142.8" r="7.7" fill="#fff" stroke="#222" stroke-width="1"/><circle cx="149.5" cy="142.8" r="7.7" fill="#fff" stroke="#222" stroke-width="1"/><circle cx="166.9" cy="142.8" r="7.7" fill="#fff" stroke="#222" stroke-width="1"/><circle cx="184.3" cy="142.8" r="7.7" fill="#fff" stroke="#222" stroke-width="1"/><circle cx="201.7" cy="142.8" r="7.7" fill="#fff" stroke="#222" stroke-width="1"/><circle cx="219.1" cy="142.8" r="7.7" fill="#fff" stroke="#222" stroke-width="1"/></svg>
<div class="b" style="left:1011.5px;top:722.0px;width:1531.0px;height:1036.0px;border:2px solid #41719c;"></div>
<div class="b" style="left:1036.0px;top:700.0px;width:336.0px;height:45.0px;background:#fff;"></div>
<div class="t " style="left:1047.0px;top:688.5px;font-size:47.70px;line-height:62px;color:#4a86c8;transform:scaleX(0.9817);transform-origin:left center;text-shadow:1px 2px 2px rgba(0,0,0,.18);">Research Aims</div>
<div class="b" style="left:1011.5px;top:1817.5px;width:1531.0px;height:1481.5px;border:2px solid #41719c;"></div>
<div class="b" style="left:1036.0px;top:1790.0px;width:384.0px;height:50.0px;background:#fff;"></div>
<div class="t " style="left:1092.4px;top:1779.1px;font-size:39.60px;line-height:51px;color:#5a6e2c;transform:scaleX(0.9977);transform-origin:left center;text-shadow:1px 2px 2px rgba(0,0,0,.25);">Current progress:</div>
<div class="t " style="left:1092.4px;top:1831.4px;font-size:39.60px;line-height:51px;color:#5a6e2c;transform:scaleX(1.0166);transform-origin:left center;text-shadow:1px 2px 2px rgba(0,0,0,.25);">Selection of model organism, model plastic, and screening method</div>
<div class="b" style="left:1099.0px;top:781.2px;width:613.0px;height:423.3px;background:#9bbb59;border:11.5px solid #4f6228;box-shadow:2px 2px 4px rgba(0,0,0,.35);"></div>
<div class="b" style="left:1846.0px;top:790.0px;width:601.7px;height:406.0px;background:#5fb27c;"></div>
<div class="b" style="left:1105.0px;top:1339.0px;width:601.5px;height:358.6px;background:#5f8cb0;"></div>
<div class="b" style="left:1846.0px;top:1339.0px;width:601.7px;height:358.6px;background:#8064a2;"></div>
<div class="t " style="left:1127.6px;top:805.5px;font-size:35.73px;line-height:46px;color:#fff;transform:scaleX(0.9505);transform-origin:left center;font-weight:bold;">Aim 1: Screening for plastic-</div>
<div class="t " style="left:1127.6px;top:849.1px;font-size:35.73px;line-height:46px;color:#fff;transform:scaleX(0.9608);transform-origin:left center;font-weight:bold;">biodegrading microbial consortia</div>
<div class="b" style="left:1127.8px;top:927.7px;width:12.3px;height:12.3px;border-radius:50%;background:#fff;"></div>
<div class="t " style="left:1151.0px;top:912.0px;font-size:35.73px;line-height:46px;color:#fff;transform:scaleX(1.0146);transform-origin:left center;">Use model organism and model</div>
<div class="t " style="left:1151.0px;top:955.6px;font-size:35.73px;line-height:46px;color:#fff;transform:scaleX(1.0337);transform-origin:left center;">plastic to validate and improve</div>
<div class="t " style="left:1151.0px;top:999.2px;font-size:35.73px;line-height:46px;color:#fff;transform:scaleX(1.0122);transform-origin:left center;">screening techniques.</div>
<div class="b" style="left:1127.8px;top:1066.6px;width:12.3px;height:12.3px;border-radius:50%;background:#fff;"></div>
<div class="t " style="left:1151.0px;top:1050.9px;font-size:35.73px;line-height:46px;color:#fff;transform:scaleX(1.0161);transform-origin:left center;">Screen for plastic-biodegrading</div>
<div class="t " style="left:1151.0px;top:1094.5px;font-size:35.73px;line-height:46px;color:#fff;transform:scaleX(1.0236);transform-origin:left center;">organisms and consortia from</div>
<div class="t " style="left:1151.0px;top:1138.1px;font-size:35.73px;line-height:46px;color:#fff;transform:scaleX(0.9807);transform-origin:left center;">local WWTPs.</div>
<div class="t " style="left:1868.8px;top:807.9px;font-size:35.73px;line-height:46px;color:#fff;transform:scaleX(0.9524);transform-origin:left center;font-weight:bold;">Aim 2: Characterizing plastic-</div>
<div class="t " style="left:1868.8px;top:851.5px;font-size:35.73px;line-height:46px;color:#fff;transform:scaleX(0.9608);transform-origin:left center;font-weight:bold;">biodegrading microbial consortia</div>
<div class="b" style="left:1870.4px;top:930.2px;width:12.3px;height:12.3px;border-radius:50%;background:#fff;"></div>
<div class="t " style="left:1891.4px;top:914.5px;font-size:35.73px;line-height:46px;color:#fff;transform:scaleX(1.0075);transform-origin:left center;">16S metagenomic sequencing to</div>
<div class="t " style="left:1891.4px;top:958.1px;font-size:35.73px;line-height:46px;color:#fff;transform:scaleX(1.0491);transform-origin:left center;">identify community members.</div>
<div class="b" style="left:1870.4px;top:1025.4px;width:12.3px;height:12.3px;border-radius:50%;background:#fff;"></div>
<div class="t " style="left:1891.4px;top:1009.7px;font-size:35.73px;line-height:46px;color:#fff;transform:scaleX(1.0172);transform-origin:left center;">Developing stable co-cultures.</div>
<div class="b" style="left:1870.4px;top:1077.1px;width:12.3px;height:12.3px;border-radius:50%;background:#fff;"></div>
<div class="t " style="left:1891.4px;top:1061.4px;font-size:35.73px;line-height:46px;color:#fff;transform:scaleX(1.0337);transform-origin:left center;">C-13 isotope tracing to follow</div>
<div class="t " style="left:1891.4px;top:1105.0px;font-size:35.73px;line-height:46px;color:#fff;transform:scaleX(1.0447);transform-origin:left center;">path of carbon through</div>
<div class="t " style="left:1891.4px;top:1148.6px;font-size:35.73px;line-height:46px;color:#fff;transform:scaleX(1.0215);transform-origin:left center;">microbial ecosystem.</div>
<div class="t " style="left:1127.6px;top:1358.6px;font-size:35.73px;line-height:46px;color:#fff;transform:scaleX(0.9634);transform-origin:left center;font-weight:bold;">Aim 3: Improving plastic-</div>
<div class="t " style="left:1127.6px;top:1402.2px;font-size:35.73px;line-height:46px;color:#fff;transform:scaleX(0.9516);transform-origin:left center;font-weight:bold;">biodegrading organisms and</div>
<div class="t " style="left:1127.6px;top:1445.8px;font-size:35.73px;line-height:46px;color:#fff;transform:scaleX(0.9620);transform-origin:left center;font-weight:bold;">consortia from local WWTPs</div>
<div class="b" style="left:1127.8px;top:1523.6px;width:12.3px;height:12.3px;border-radius:50%;background:#fff;"></div>
<div class="t " style="left:1151.0px;top:1507.9px;font-size:35.73px;line-height:46px;color:#fff;transform:scaleX(1.0489);transform-origin:left center;">Adaptive laboratory evolution</div>
<div class="b" style="left:1127.8px;top:1574.5px;width:12.3px;height:12.3px;border-radius:50%;background:#fff;"></div>
<div class="t " style="left:1151.0px;top:1558.8px;font-size:35.73px;line-height:46px;color:#fff;transform:scaleX(1.0015);transform-origin:left center;">Random mutagenesis and</div>
<div class="t " style="left:1151.0px;top:1602.4px;font-size:35.73px;line-height:46px;color:#fff;transform:scaleX(1.0016);transform-origin:left center;">screening</div>
<div class="t " style="left:1868.8px;top:1358.6px;font-size:35.73px;line-height:46px;color:#fff;transform:scaleX(0.9781);transform-origin:left center;font-weight:bold;">Future</div>
<div class="b" style="left:1870.4px;top:1435.6px;width:12.3px;height:12.3px;border-radius:50%;background:#fff;"></div>
<div class="t " style="left:1891.4px;top:1419.9px;font-size:35.73px;line-height:46px;color:#fff;transform:scaleX(1.0384);transform-origin:left center;">Implementing plastic-</div>
<div class="t " style="left:1891.4px;top:1463.5px;font-size:35.73px;line-height:46px;color:#fff;transform:scaleX(1.0329);transform-origin:left center;">biodegrading microbial consortia</div>
<div class="t " style="left:1891.4px;top:1507.1px;font-size:35.73px;line-height:46px;color:#fff;transform:scaleX(0.9778);transform-origin:left center;">in WWTPs</div>
<div class="b" style="left:1870.4px;top:1574.5px;width:12.3px;height:12.3px;border-radius:50%;background:#fff;"></div>
<div class="t " style="left:1891.4px;top:1558.8px;font-size:35.73px;line-height:46px;color:#fff;transform:scaleX(1.0470);transform-origin:left center;">Replicating method with other</div>
<div class="t " style="left:1891.4px;top:1602.4px;font-size:35.73px;line-height:46px;color:#fff;transform:scaleX(1.0245);transform-origin:left center;">types of plastic</div>
<svg class="b" style="left:1000.0px;top:700.0px;" width="1560.0" height="1200.0" viewBox="0 0 1560.0 1200.0">
<g fill="none" stroke-linecap="butt">
<path d="M712 292.7H838" stroke="#9bbb59" stroke-width="6"/><path d="M820 276l22 16.700000000000003-22 16.700000000000003" stroke="#9bbb59" stroke-width="6"/>
<path d="M1148 496V567.4H406V627" stroke="#4bacc6" stroke-width="6.5"/><path d="M393 607l13 22 13-22" stroke="#4bacc6" stroke-width="6.5"/>
<path d="M706.5 819H838" stroke="#8064a2" stroke-width="6"/><path d="M820 802.3l22 16.700000000000003-22 16.700000000000003" stroke="#8064a2" stroke-width="6"/>
<path d="M157.4 504V601H68.6V1100" stroke="#4f6228" stroke-width="11.5" stroke-dasharray="31 11"/>
<circle cx="68.6" cy="1113.8" r="17" fill="#4f6228"/>
</g></svg>
<div class="b" style="left:1021.7px;top:1980.4px;width:399.2px;height:441.3px;background:#9bbb59;border-radius:62px;box-shadow:2px 3px 5px rgba(0,0,0,.3);"></div>
<div class="b" style="left:1445.7px;top:1978.7px;width:382.3px;height:440.0px;background:#9bbb59;border-radius:62px;box-shadow:2px 3px 5px rgba(0,0,0,.3);"></div>
<div class="t " style="left:1047.6px;top:1998.8px;font-size:36.00px;line-height:47px;color:#fff;transform:scaleX(0.9488);transform-origin:center center;font-weight:bold;font-style:italic;">Ideonella sakaiensis</div>
<div class="b" style="left:1049.5px;top:2074.6px;width:11.0px;height:11.0px;border-radius:50%;background:#fff;"></div>
<div class="t " style="left:1068.0px;top:2060.1px;font-size:32.04px;line-height:42px;color:#fff;transform:scaleX(0.9763);transform-origin:left center;">Utilizes PET as major</div>
<div class="t " style="left:1068.0px;top:2098.9px;font-size:32.04px;line-height:42px;color:#fff;transform:scaleX(1.0130);transform-origin:left center;">carbon and energy</div>
<div class="t " style="left:1068.0px;top:2137.7px;font-size:32.04px;line-height:42px;color:#fff;transform:scaleX(1.0271);transform-origin:left center;">source [2]</div>
<div class="b" style="left:1049.5px;top:2197.6px;width:11.0px;height:11.0px;border-radius:50%;background:#fff;"></div>
<div class="t " style="left:1068.0px;top:2183.1px;font-size:32.04px;line-height:42px;color:#fff;transform:scaleX(1.0463);transform-origin:left center;">Isolated from</div>
<div class="t " style="left:1068.0px;top:2221.9px;font-size:32.04px;line-height:42px;color:#fff;transform:scaleX(1.0318);transform-origin:left center;">consortium which can</div>
<div class="t " style="left:1068.0px;top:2260.7px;font-size:32.04px;line-height:42px;color:#fff;transform:scaleX(0.9773);transform-origin:left center;">degrade PET at 0.13</div>
<div class="t " style="left:1068.0px;top:2299.5px;font-size:32.04px;line-height:42px;color:#fff;transform:scaleX(1.0379);transform-origin:left center;">mg/cm<span style="font-size:62%;position:relative;top:-11.5px;">2</span>·day<span style="font-size:62%;position:relative;top:-11.5px;">1</span> [2]</div>
<div class="t " style="left:1527.4px;top:1998.2px;font-size:35.55px;line-height:46px;color:#fff;transform:scaleX(0.9793);transform-origin:center center;font-weight:bold;">Polyethylene</div>
<div class="t " style="left:1474.0px;top:2040.8px;font-size:35.55px;line-height:46px;color:#fff;transform:scaleX(0.9834);transform-origin:center center;font-weight:bold;">terephthalate (PET)</div>
<div class="b" style="left:1472.5px;top:2115.0px;width:11.0px;height:11.0px;border-radius:50%;background:#fff;"></div>
<div class="t " style="left:1490.0px;top:2100.5px;font-size:32.04px;line-height:42px;color:#fff;transform:scaleX(1.0120);transform-origin:left center;">Has been detected in</div>
<div class="t " style="left:1490.0px;top:2139.2px;font-size:32.04px;line-height:42px;color:#fff;transform:scaleX(1.0422);transform-origin:left center;">WWTP effluent [1]</div>
<div class="b" style="left:1472.5px;top:2199.8px;width:11.0px;height:11.0px;border-radius:50%;background:#fff;"></div>
<div class="t " style="left:1490.0px;top:2185.3px;font-size:32.04px;line-height:42px;color:#fff;transform:scaleX(1.0490);transform-origin:left center;">High throughput</div>
<div class="t " style="left:1490.0px;top:2223.9px;font-size:32.04px;line-height:42px;color:#fff;transform:scaleX(1.0059);transform-origin:left center;">screening of Pet</div>
<div class="t " style="left:1490.0px;top:2262.5px;font-size:32.04px;line-height:42px;color:#fff;transform:scaleX(1.0454);transform-origin:left center;">biodegradation</div>
<div class="t " style="left:1490.0px;top:2301.1px;font-size:32.04px;line-height:42px;color:#fff;transform:scaleX(1.0207);transform-origin:left center;">exists, utilizing</div>
<div class="t " style="left:1490.0px;top:2339.7px;font-size:32.04px;line-height:42px;color:#fff;transform:scaleX(1.0404);transform-origin:left center;">Fenton reaction [4]</div>
<div class="b" style="left:1041.5px;top:2439.0px;width:758.0px;height:793.5px;border:4px solid #000;background:#fff;box-shadow:3px 3px 5px rgba(0,0,0,.4);"></div>
<div class="t " style="left:1072.5px;top:2451.8px;font-size:39.60px;line-height:51px;color:#4f6228;transform:scaleX(0.9638);transform-origin:left center;font-style:italic;">I. sakaiensis</div>
<div class="t " style="left:1473.2px;top:2499.7px;font-size:35.55px;line-height:46px;color:#4f6228;transform:scaleX(1.0015);transform-origin:left center;">Pitting on PET film</div>
<div class="t " style="left:1187.9px;top:2780.4px;font-size:36.00px;line-height:47px;color:#4f6228;transform:scaleX(0.9996);transform-origin:left center;">PET biodegradation pathway</div>
<div class="t " style="left:1276.2px;top:3173.8px;font-size:32.40px;line-height:42px;color:#000;transform:scaleX(1.0044);transform-origin:right center;">Taken from Yoshida <span style="font-style:italic;">et al.</span> 2016 [3]</div>
<svg class="b" style="left:1868.0px;top:1916.8px;" width="32.0" height="34.0" viewBox="0 0 32.0 34.0"><path d="M3 22L6 19L12 26L28 2L30 3.5L13 31Z" fill="#000"/></svg>
<svg class="b" style="left:1868.0px;top:2012.0px;" width="32.0" height="34.0" viewBox="0 0 32.0 34.0"><path d="M3 22L6 19L12 26L28 2L30 3.5L13 31Z" fill="#000"/></svg>
<div class="t " style="left:1913.6px;top:1915.4px;font-size:35.73px;line-height:46px;color:#000;transform:scaleX(1.0347);transform-origin:left center;">Developed cultivation media for <span style="font-style:italic;">I.</span></div>
<div class="t " style="left:1913.6px;top:1962.6px;font-size:35.73px;line-height:46px;color:#000;transform:scaleX(0.9536);transform-origin:left center;"><span style="font-style:italic;">sakaiensis</span></div>
<div class="t " style="left:1913.6px;top:2010.6px;font-size:35.73px;line-height:46px;color:#000;transform:scaleX(1.0134);transform-origin:left center;">Used polymerase chain reaction</div>
<div class="t " style="left:1913.6px;top:2058.4px;font-size:35.73px;line-height:46px;color:#000;transform:scaleX(0.9857);transform-origin:left center;">(PCR) to amplify 16S rRNA gene for</div>
<div class="t " style="left:1913.6px;top:2106.2px;font-size:35.73px;line-height:46px;color:#000;transform:scaleX(1.0015);transform-origin:left center;">sequencing</div>
<div class="t " style="left:1870.0px;top:2181.0px;font-size:32.40px;line-height:42px;color:#000;transform:scaleX(1.0296);transform-origin:left center;"><span style="font-weight:bold;">Now:</span> validating high-throughput screening</div>
<div class="t " style="left:1870.0px;top:2223.4px;font-size:32.40px;line-height:42px;color:#000;transform:scaleX(1.0130);transform-origin:left center;">of PET biodegradation using fluorescent</div>
<div class="t " style="left:1870.0px;top:2265.8px;font-size:32.40px;line-height:42px;color:#000;transform:scaleX(1.0404);transform-origin:left center;">Fenton reaction [4]</div>
<div class="b" style="left:1840.0px;top:2321.0px;width:680.3px;height:281.0px;border:4.5px solid #000;background:#fff;box-shadow:3px 3px 5px rgba(0,0,0,.4);"></div>
<div class="b" style="left:1842.2px;top:2615.6px;width:687.5px;height:80.4px;border:1.5px solid #c3c9a5;background:#fff;"></div>
<div class="t " style="left:1917.1px;top:2618.5px;font-size:28.80px;line-height:37px;color:#000;transform:scaleX(1.0018);transform-origin:center center;">Prepare PET MPs through dissolution and</div>
<div class="t " style="left:1960.9px;top:2654.1px;font-size:28.80px;line-height:37px;color:#000;transform:scaleX(1.0587);transform-origin:center center;">precipitation in trifluoracetic acid [5]</div>
<div class="b" style="left:1842.2px;top:2738.2px;width:687.5px;height:78.2px;border:1.5px solid #c3c9a5;background:#fff;"></div>
<div class="t " style="left:1884.1px;top:2739.2px;font-size:28.80px;line-height:37px;color:#000;transform:scaleX(1.0126);transform-origin:center center;">Prime <span style="font-style:italic;">I. sakaiensis</span> on solid media imbibed with</div>
<div class="t " style="left:2105.2px;top:2774.8px;font-size:28.80px;line-height:37px;color:#000;transform:scaleX(0.9587);transform-origin:center center;">PET MPs [4]</div>
<div class="b" style="left:1842.2px;top:2857.5px;width:687.5px;height:79.5px;border:1.5px solid #c3c9a5;background:#fff;"></div>
<div class="b" style="left:1837.8px;top:2859.0px;width:693.3px;height:411.0px;border:5px solid #000;background:#fff;box-shadow:3px 3px 5px rgba(0,0,0,.4);"></div>
<svg class="b" style="left:1140.0px;top:1875.0px;" width="640.0" height="115.0" viewBox="0 0 640.0 115.0"><g transform="scale(0.33124)"><g fill="none" stroke="#000" stroke-width="10" stroke-linecap="round" stroke-linejoin="round">
<path d="M140 215C140 180 175 165 205 158C232 150 228 125 245 100C262 78 300 75 318 100C335 125 328 165 305 200C280 238 235 262 195 268C160 272 140 250 140 215Z"/>
<path d="M135 230L105 228M150 255L130 272M183 270L183 297M225 265L240 288M268 245L290 262M300 210L325 222M322 178L350 176M333 127L358 125M318 96L340 75M278 75L290 50M243 92L230 63M222 128L197 112M190 160L160 145M150 190L118 178"/>
</g><g fill="#000"><rect x="266" y="119" width="9" height="9"/><rect x="283" y="152" width="9" height="9"/><rect x="248" y="166" width="9" height="9"/><rect x="204" y="197" width="9" height="9"/><rect x="243" y="205" width="9" height="9"/><rect x="180" y="224" width="9" height="9"/></g>
<g fill="none" stroke="#333" stroke-width="2.2">
<path d="M1278 30H1255V290H1278M1692 30H1715V290H1692"/>
<path d="M1390 190L1420 138H1480L1510 190L1480 242H1420ZM1402 190L1426 149M1474 149L1498 190M1426 231H1474"/>
<path d="M1390 190H1335L1312 152M1327 194L1305 158M1335 190L1312 228M1287 243H1232"/>
<path d="M1510 190H1570L1592 152M1570 190L1592 228M1578 186L1600 222M1615 137L1665 135L1695 90H1745"/>
<path d="M1195 296H1810" stroke="#bbb" stroke-width="1.5"/>
</g>
<g font-family="Liberation Sans" font-size="44" fill="#222" text-anchor="middle">
<text x="1300" y="155">O</text><text x="1300" y="258">O</text><text x="1213" y="258">H</text><text x="1601" y="155">O</text><text x="1601" y="258">O</text><text x="1777" y="104">OH</text><text x="1731" y="298" font-size="26">n</text></g></g></svg>
<svg class="b" style="left:1050.0px;top:2490.0px;" width="740.0" height="300.0" viewBox="0 0 740.0 300.0"><g transform="scale(0.38302)"><defs><filter id="n1" x="0" y="0" width="100%" height="100%" color-interpolation-filters="sRGB"><feTurbulence type="fractalNoise" baseFrequency="0.09" numOctaves="2" seed="3"/><feColorMatrix values="0 0 0 0 0.16  0 0 0 0 0.16  0 0 0 0 0.16  0.9 0.9 0 0 -0.35"/></filter>
<filter id="bl" x="-20%" y="-20%" width="140%" height="140%"><feGaussianBlur stdDeviation="6"/></filter><filter id="bl2" x="-10%" y="-30%" width="120%" height="160%"><feGaussianBlur stdDeviation="3"/></filter>
<linearGradient id="rod" x1="0" y1="0" x2="1" y2="0.3"><stop offset="0" stop-color="#bcbcbc"/><stop offset="1" stop-color="#979797"/></linearGradient></defs>
<rect x="32" y="50" width="926" height="692" fill="#3d3d3d"/>
<rect x="32" y="50" width="926" height="692" filter="url(#n1)" opacity=".5"/>
<g filter="url(#bl)" fill="#8e8e8e"><path d="M470 110L520 55L600 70L650 60L760 95L730 140L640 135L560 110Z"/><path d="M170 250L215 200L260 260L300 300L250 330L190 300Z"/>
<path d="M560 230L640 210L700 170L690 260L760 330L820 340L760 380L700 350L620 330Z"/><path d="M230 470L260 400L320 450L400 430L470 470L560 520L540 580L480 540L400 500L330 520L250 530Z" fill="#808080"/>
<path d="M830 600L900 530L958 560V742H800L850 690L790 660Z" fill="#d0d0d0"/><path d="M32 480L90 470L70 540L110 600L60 680L32 690Z" fill="#8a8a8a"/><path d="M90 170L180 200L120 230Z" fill="#888"/></g>
<g transform="rotate(39.7 492 372)"><rect x="150" y="302" width="685" height="142" rx="71" fill="#5e5e5e" filter="url(#bl2)"/><rect x="158" y="308" width="669" height="128" rx="64" fill="url(#rod)" filter="url(#bl2)"/></g>
<circle cx="528" cy="328" r="24" fill="none" stroke="#bdbdbd" stroke-width="5"/>
<rect x="32" y="668" width="926" height="74" fill="#3c3c3c" opacity=".55"/>
<path d="M78 647H460" stroke="#fff" stroke-width="8"/><rect x="605" y="532" width="102" height="93" fill="none" stroke="#eee" stroke-width="4"/>
<path d="M603 508l7 16 17 1-13 11 5 17-16-10-15 10 5-17-13-11 17-1z" fill="#fff"/>
<text x="178" y="608" font-family="Liberation Sans" font-size="74" fill="#fff">1 µm</text>
<text x="118" y="700" font-family="Liberation Mono" font-size="26" fill="#c8c8c8" textLength="712" xml:space="preserve">5397    5KU   X50,000 16mm</text>
<defs><radialGradient id="pit"><stop offset="0" stop-color="#1c1c1c"/><stop offset=".75" stop-color="#2e2e2e"/><stop offset="1" stop-color="#4a4a4a"/></radialGradient><filter id="bl3"><feGaussianBlur stdDeviation="2"/></filter></defs>
<rect x="1113" y="160" width="749" height="550" fill="#6c6c6c"/><clipPath id="cp2"><rect x="1113" y="160" width="749" height="550"/></clipPath><g clip-path="url(#cp2)"><g fill="url(#pit)" filter="url(#bl3)"><circle cx="1358" cy="248" r="20"/><circle cx="1598" cy="207" r="18"/><circle cx="1514" cy="363" r="18"/><circle cx="1163" cy="438" r="18"/><circle cx="1148" cy="399" r="21"/><circle cx="1171" cy="216" r="21"/><circle cx="1432" cy="608" r="21"/><circle cx="1211" cy="287" r="19"/><circle cx="1581" cy="672" r="20"/><circle cx="1544" cy="379" r="17"/><circle cx="1838" cy="193" r="16"/><circle cx="1751" cy="322" r="19"/><circle cx="1226" cy="231" r="21"/><circle cx="1347" cy="602" r="17"/><circle cx="1253" cy="477" r="17"/><circle cx="1590" cy="366" r="18"/><circle cx="1523" cy="201" r="17"/><circle cx="1164" cy="278" r="17"/><circle cx="1620" cy="395" r="19"/><circle cx="1351" cy="480" r="19"/><circle cx="1453" cy="327" r="18"/><circle cx="1704" cy="540" r="20"/><circle cx="1299" cy="474" r="18"/><circle cx="1506" cy="634" r="16"/><circle cx="1656" cy="321" r="19"/><circle cx="1840" cy="231" r="18"/><circle cx="1427" cy="571" r="19"/><circle cx="1232" cy="428" r="17"/><circle cx="1149" cy="523" r="21"/><circle cx="1682" cy="473" r="17"/><circle cx="1631" cy="484" r="16"/><circle cx="1737" cy="671" r="19"/><circle cx="1468" cy="521" r="19"/><circle cx="1404" cy="524" r="19"/><circle cx="1163" cy="577" r="21"/><circle cx="1407" cy="632" r="17"/><circle cx="1722" cy="628" r="19"/><circle cx="1325" cy="389" r="19"/><circle cx="1250" cy="291" r="17"/><circle cx="1292" cy="426" r="20"/><circle cx="1553" cy="308" r="19"/><circle cx="1391" cy="469" r="20"/><circle cx="1821" cy="535" r="17"/><circle cx="1499" cy="497" r="19"/><circle cx="1781" cy="583" r="21"/><circle cx="1408" cy="380" r="19"/><circle cx="1196" cy="505" r="19"/><circle cx="1273" cy="254" r="16"/><circle cx="1370" cy="196" r="17"/><circle cx="1120" cy="248" r="20"/><circle cx="1195" cy="361" r="21"/><circle cx="1139" cy="633" r="16"/><circle cx="1571" cy="247" r="18"/><circle cx="1305" cy="353" r="20"/><circle cx="1388" cy="233" r="19"/><circle cx="1463" cy="425" r="19"/><circle cx="1372" cy="309" r="20"/><circle cx="1729" cy="254" r="18"/><circle cx="1137" cy="674" r="17"/><circle cx="1508" cy="246" r="17"/><circle cx="1508" cy="689" r="20"/><circle cx="1755" cy="538" r="20"/><circle cx="1243" cy="579" r="21"/><circle cx="1511" cy="582" r="18"/><circle cx="1747" cy="597" r="19"/><circle cx="1141" cy="317" r="18"/><circle cx="1310" cy="536" r="21"/><circle cx="1823" cy="406" r="21"/><circle cx="1809" cy="694" r="17"/><circle cx="1822" cy="362" r="17"/><circle cx="1738" cy="423" r="18"/><circle cx="1600" cy="593" r="19"/><circle cx="1671" cy="422" r="20"/><circle cx="1415" cy="672" r="17"/><circle cx="1653" cy="258" r="17"/><circle cx="1216" cy="176" r="20"/><circle cx="1216" cy="652" r="20"/><circle cx="1380" cy="412" r="17"/><circle cx="1549" cy="649" r="19"/><circle cx="1489" cy="451" r="20"/><circle cx="1443" cy="265" r="17"/><circle cx="1123" cy="593" r="21"/><circle cx="1360" cy="444" r="19"/><circle cx="1198" cy="466" r="18"/><circle cx="1303" cy="315" r="19"/><circle cx="1570" cy="437" r="19"/><circle cx="1471" cy="669" r="18"/><circle cx="1634" cy="634" r="18"/><circle cx="1813" cy="306" r="21"/><circle cx="1209" cy="403" r="20"/><circle cx="1605" cy="244" r="17"/><circle cx="1769" cy="683" r="18"/><circle cx="1281" cy="675" r="20"/><circle cx="1413" cy="427" r="18"/><circle cx="1848" cy="611" r="18"/><circle cx="1264" cy="337" r="19"/><circle cx="1651" cy="178" r="17"/><circle cx="1167" cy="692" r="19"/><circle cx="1699" cy="685" r="20"/><circle cx="1319" cy="237" r="16"/><circle cx="1722" cy="306" r="16"/><circle cx="1539" cy="541" r="20"/><circle cx="1182" cy="624" r="16"/><circle cx="1507" cy="295" r="21"/><circle cx="1200" cy="254" r="20"/><circle cx="1304" cy="176" r="20"/><circle cx="1807" cy="225" r="20"/><circle cx="1625" cy="691" r="19"/><circle cx="1835" cy="459" r="19"/><circle cx="1348" cy="358" r="17"/><circle cx="1121" cy="371" r="20"/><circle cx="1151" cy="180" r="19"/><circle cx="1672" cy="518" r="18"/><circle cx="1406" cy="342" r="19"/><circle cx="1776" cy="502" r="20"/><circle cx="1659" cy="600" r="19"/><circle cx="1622" cy="537" r="18"/><circle cx="1580" cy="530" r="20"/><circle cx="1480" cy="170" r="16"/><circle cx="1175" cy="309" r="20"/><circle cx="1664" cy="687" r="18"/><circle cx="1617" cy="323" r="18"/><circle cx="1500" cy="415" r="19"/><circle cx="1463" cy="231" r="18"/><circle cx="1777" cy="274" r="17"/><circle cx="1839" cy="666" r="17"/><circle cx="1123" cy="430" r="16"/><circle cx="1330" cy="666" r="17"/><circle cx="1339" cy="561" r="18"/><circle cx="1261" cy="216" r="20"/><circle cx="1671" cy="388" r="17"/><circle cx="1762" cy="180" r="17"/><circle cx="1778" cy="420" r="17"/><circle cx="1552" cy="168" r="21"/><circle cx="1504" cy="531" r="21"/><circle cx="1456" cy="461" r="18"/><circle cx="1405" cy="287" r="17"/><circle cx="1622" cy="273" r="18"/><circle cx="1283" cy="573" r="19"/><circle cx="1284" cy="390" r="17"/><circle cx="1780" cy="638" r="18"/><circle cx="1382" cy="605" r="19"/><circle cx="1684" cy="190" r="20"/><circle cx="1669" cy="646" r="16"/><circle cx="1824" cy="496" r="18"/><circle cx="1566" cy="342" r="20"/><circle cx="1359" cy="689" r="19"/><circle cx="1469" cy="604" r="18"/><circle cx="1558" cy="498" r="17"/><circle cx="1240" cy="538" r="19"/><circle cx="1227" cy="319" r="19"/><circle cx="1492" cy="338" r="18"/><circle cx="1762" cy="463" r="19"/><circle cx="1350" cy="169" r="20"/><circle cx="1573" cy="398" r="17"/><circle cx="1168" cy="482" r="17"/><circle cx="1375" cy="543" r="17"/><circle cx="1754" cy="216" r="19"/><circle cx="1329" cy="282" r="17"/><circle cx="1634" cy="433" r="20"/><circle cx="1234" cy="617" r="20"/><circle cx="1405" cy="186" r="20"/><circle cx="1274" cy="532" r="20"/><circle cx="1210" cy="692" r="21"/><circle cx="1715" cy="505" r="17"/><circle cx="1733" cy="357" r="16"/><circle cx="1122" cy="552" r="18"/><circle cx="1435" cy="507" r="17"/><circle cx="1585" cy="176" r="20"/><circle cx="1567" cy="584" r="17"/><circle cx="1423" cy="222" r="18"/><circle cx="1656" cy="213" r="19"/><circle cx="1721" cy="210" r="19"/><circle cx="1815" cy="585" r="18"/><circle cx="1688" cy="292" r="17"/><circle cx="1209" cy="548" r="19"/><circle cx="1304" cy="603" r="21"/><circle cx="1133" cy="487" r="16"/><circle cx="1691" cy="348" r="19"/><circle cx="1344" cy="512" r="18"/><circle cx="1573" cy="620" r="20"/><circle cx="1663" cy="563" r="20"/><circle cx="1796" cy="340" r="18"/><circle cx="1535" cy="433" r="18"/><circle cx="1646" cy="356" r="18"/><circle cx="1451" cy="373" r="20"/><circle cx="1202" cy="589" r="16"/><circle cx="1849" cy="567" r="19"/><circle cx="1730" cy="563" r="19"/><circle cx="1372" cy="639" r="21"/><circle cx="1690" cy="241" r="19"/><circle cx="1153" cy="246" r="20"/><circle cx="1164" cy="347" r="17"/><circle cx="1547" cy="693" r="19"/><circle cx="1562" cy="210" r="17"/><circle cx="1800" cy="468" r="16"/><circle cx="1718" cy="393" r="20"/><circle cx="1847" cy="289" r="21"/><circle cx="1274" cy="638" r="18"/><circle cx="1595" cy="460" r="17"/><circle cx="1710" cy="445" r="19"/><circle cx="1800" cy="185" r="21"/><circle cx="1814" cy="273" r="16"/><circle cx="1322" cy="204" r="18"/><circle cx="1849" cy="331" r="17"/><circle cx="1252" cy="174" r="19"/><circle cx="1577" cy="283" r="19"/><circle cx="1539" cy="265" r="18"/><circle cx="1481" cy="268" r="19"/><circle cx="1706" cy="595" r="17"/><circle cx="1239" cy="386" r="19"/><circle cx="1813" cy="625" r="16"/><circle cx="1771" cy="364" r="18"/><circle cx="1542" cy="466" r="17"/><circle cx="1442" cy="170" r="18"/><circle cx="1324" cy="436" r="18"/><circle cx="1475" cy="557" r="16"/><circle cx="1393" cy="573" r="18"/><circle cx="1444" cy="696" r="17"/><circle cx="1853" cy="513" r="16"/><circle cx="1246" cy="668" r="19"/><circle cx="1442" cy="651" r="17"/><circle cx="1394" cy="699" r="17"/><circle cx="1854" cy="376" r="19"/><circle cx="1121" cy="206" r="19"/><circle cx="1271" cy="604" r="18"/><circle cx="1847" cy="699" r="18"/><circle cx="1184" cy="184" r="20"/><circle cx="1629" cy="572" r="16"/><circle cx="1322" cy="633" r="18"/><circle cx="1721" cy="169" r="18"/><circle cx="1527" cy="330" r="20"/><circle cx="1492" cy="213" r="16"/><circle cx="1751" cy="392" r="20"/><circle cx="1261" cy="444" r="19"/><circle cx="1320" cy="698" r="16"/><circle cx="1129" cy="284" r="19"/><circle cx="1596" cy="496" r="17"/><circle cx="1484" cy="383" r="19"/><circle cx="1787" cy="548" r="17"/><circle cx="1183" cy="658" r="21"/><circle cx="1285" cy="286" r="18"/><circle cx="1337" cy="316" r="16"/><circle cx="1542" cy="606" r="20"/><circle cx="1229" cy="501" r="18"/><circle cx="1854" cy="427" r="16"/><circle cx="1596" cy="559" r="16"/><circle cx="1794" cy="388" r="20"/><circle cx="1601" cy="642" r="18"/><circle cx="1424" cy="473" r="17"/><circle cx="1461" cy="295" r="17"/><circle cx="1440" cy="540" r="20"/><circle cx="1377" cy="503" r="18"/><circle cx="1602" cy="425" r="20"/><circle cx="1778" cy="241" r="19"/></g></g>
<rect x="1113" y="160" width="749" height="550" fill="none" stroke="#222" stroke-width="6"/>
<rect x="1602" y="180" width="214" height="190" fill="#8e8e8e" stroke="#e8e8e8" stroke-width="5"/>
<text x="1716" y="358" font-family="Liberation Sans" font-size="38" fill="#fff" text-anchor="middle">Control</text>
<text x="1752" y="640" font-family="Liberation Sans" font-size="46" fill="#fff" text-anchor="middle">1 µm</text><path d="M1715 670H1775" stroke="#fff" stroke-width="7"/>
</g></svg>
<svg class="b" style="left:1050.0px;top:2780.0px;" width="740.0" height="460.0" viewBox="0 0 740.0 460.0"><g transform="scale(0.38302)"><g fill="none" stroke="#6b6b6b" stroke-width="4"><path d="M118 55H335M1600 55H1898V1013H52V112"/></g>
<path d="M62 2l14 40 42 1-34 25 13 41-35-25-35 25 13-41-34-25 42-1z" fill="#fff" stroke="#222" stroke-width="3.5"/>
<g fill="none" stroke="#444" stroke-width="5" stroke-linejoin="round">
<path d="M178 135H155V520H178M778 135H800V520H778"/>
<path d="M340 232L408 270V350L340 392L272 350V270ZM340 250L393 280M393 340L340 372M287 342V278"/>
<path d="M408 275L480 245M472 245V185M488 245V185M480 245L528 275M565 275L600 245L685 288L735 255M770 245H830"/>
<path d="M272 360L205 405H125M197 405V465M213 405V465"/>
<path d="M912 308H1080M1080 290L1125 308L1080 326Z"/>
<path d="M1400 268L1465 305V385L1400 422L1335 385V305ZM1400 286L1450 314M1450 376L1400 404M1350 378V312"/>
<path d="M1465 305L1525 265M1517 265V205M1533 265V205M1525 265L1575 295M1610 295L1650 268L1725 305L1770 280M1335 385L1285 412"/>
<path d="M183 805H350M350 787L395 805L350 823Z"/><path d="M1095 805H1260M1260 787L1305 805L1260 823Z"/>
<path d="M715 715L760 690L830 725L878 700"/>
<path d="M715 887L752 822H828L866 887L828 952H752ZM733 887L762 838M818 838L847 887M762 936H818M652 887H715M866 887H928"/>
</g></g></svg>
<div class="t " style="left:1225.7px;top:2829.9px;font-size:19.00px;line-height:25px;color:#333;transform:scaleX(1.0000);transform-origin:center center;">O</div>
<div class="t " style="left:1251.4px;top:2877.7px;font-size:19.00px;line-height:25px;color:#333;transform:scaleX(1.0000);transform-origin:center center;">O</div>
<div class="t " style="left:1330.6px;top:2860.9px;font-size:19.00px;line-height:25px;color:#333;transform:scaleX(1.0000);transform-origin:center center;">O</div>
<div class="t " style="left:1120.4px;top:2953.6px;font-size:19.00px;line-height:25px;color:#333;transform:scaleX(1.0000);transform-origin:center center;">O</div>
<div class="t " style="left:1366.8px;top:2953.5px;font-size:20.00px;line-height:26px;color:#333;transform:scaleX(1.0000);transform-origin:center center;font-weight:bold;">n</div>
<div class="t " style="left:1399.1px;top:2852.0px;font-size:23.00px;line-height:30px;color:#333;transform:scaleX(1.0000);transform-origin:center center;">PETase</div>
<div class="t " style="left:1626.7px;top:2839.4px;font-size:19.00px;line-height:25px;color:#333;transform:scaleX(1.0000);transform-origin:center center;">O</div>
<div class="t " style="left:1652.4px;top:2883.9px;font-size:19.00px;line-height:25px;color:#333;transform:scaleX(1.0000);transform-origin:center center;">O</div>
<div class="t " style="left:1727.1px;top:2869.3px;font-size:19.00px;line-height:25px;color:#333;transform:scaleX(1.0000);transform-origin:center center;">OH</div>
<div class="t " style="left:1492.3px;top:2927.9px;font-size:19.00px;line-height:25px;color:#333;transform:scaleX(1.0000);transform-origin:right center;">HO<span style="font-size:62%;position:relative;top:3.0px;">2</span>C</div>
<div class="t " style="left:1110.5px;top:3042.4px;font-size:23.00px;line-height:30px;color:#333;transform:scaleX(1.0000);transform-origin:center center;">MHETase</div>
<div class="t " style="left:1293.5px;top:3046.7px;font-size:19.00px;line-height:25px;color:#333;transform:scaleX(1.0000);transform-origin:center center;">HO</div>
<div class="t " style="left:1387.0px;top:3031.3px;font-size:19.00px;line-height:25px;color:#333;transform:scaleX(1.0000);transform-origin:center center;">OH</div>
<div class="t " style="left:1250.2px;top:3106.8px;font-size:19.00px;line-height:25px;color:#333;transform:scaleX(1.0000);transform-origin:right center;">HO<span style="font-size:62%;position:relative;top:3.0px;">2</span>C</div>
<div class="t " style="left:1406.2px;top:3106.8px;font-size:19.00px;line-height:25px;color:#333;transform:scaleX(1.0000);transform-origin:left center;">CO<span style="font-size:62%;position:relative;top:3.0px;">2</span>H</div>
<div class="t " style="left:1578.6px;top:3070.3px;font-size:23.00px;line-height:30px;color:#333;transform:scaleX(1.0183);transform-origin:left center;">Cell metabolism</div>
<div class="t " style="left:1217.4px;top:2960.7px;font-size:38.70px;line-height:50px;color:#4bacc6;transform:scaleX(0.8525);transform-origin:left center;">PET</div>
<div class="t " style="left:1604.2px;top:2948.4px;font-size:38.70px;line-height:50px;color:#4bacc6;transform:scaleX(0.9623);transform-origin:left center;">MHET</div>
<div class="t " style="left:1449.5px;top:3023.7px;font-size:24.30px;line-height:32px;color:#4bacc6;transform:scaleX(1.0193);transform-origin:left center;">Ethylene glycol</div>
<div class="t " style="left:1495.5px;top:3101.5px;font-size:24.30px;line-height:32px;color:#4bacc6;transform:scaleX(1.0479);transform-origin:left center;">Terephthalic acid</div>
<svg class="b" style="left:1836.0px;top:2316.0px;" width="690.0" height="290.0" viewBox="0 0 690.0 290.0"><g transform="scale(0.35714)"><defs><radialGradient id="glow"><stop offset="0" stop-color="#fff"/><stop offset=".55" stop-color="#fff"/><stop offset="1" stop-color="#8fb9e6"/></radialGradient>
<filter id="gb" x="-20%" y="-20%" width="140%" height="140%"><feGaussianBlur stdDeviation="7"/></filter>
<marker id="ahb" viewBox="0 0 10 10" refX="8" refY="5" markerWidth="9" markerHeight="7" orient="auto"><path d="M0 0L10 5L0 10L3 5z"/></marker><marker id="ahc" markerUnits="userSpaceOnUse" viewBox="0 0 10 10" refX="5" refY="5" markerWidth="56" markerHeight="34" preserveAspectRatio="none" orient="auto"><path d="M0 0L10 5L0 10L3 5z"/></marker></defs>
<path d="M1447 95 L1470 158 L1505 105 L1516 175 L1560 136 L1557 206 L1606 184 L1590 251 L1642 248 L1613 307 L1664 321 L1625 368 L1672 400 L1625 432 L1664 479 L1613 493 L1642 552 L1590 549 L1606 616 L1557 594 L1560 664 L1516 625 L1505 695 L1470 642 L1447 705 L1424 642 L1389 695 L1378 625 L1334 664 L1337 594 L1288 616 L1304 549 L1252 553 L1281 493 L1230 479 L1269 432 L1222 400 L1269 368 L1230 321 L1281 307 L1252 247 L1304 251 L1288 184 L1337 206 L1334 136 L1378 175 L1389 105 L1424 158 Z" fill="#9cc3ec" filter="url(#gb)"/><path d="M1447 95 L1470 158 L1505 105 L1516 175 L1560 136 L1557 206 L1606 184 L1590 251 L1642 248 L1613 307 L1664 321 L1625 368 L1672 400 L1625 432 L1664 479 L1613 493 L1642 552 L1590 549 L1606 616 L1557 594 L1560 664 L1516 625 L1505 695 L1470 642 L1447 705 L1424 642 L1389 695 L1378 625 L1334 664 L1337 594 L1288 616 L1304 549 L1252 553 L1281 493 L1230 479 L1269 432 L1222 400 L1269 368 L1230 321 L1281 307 L1252 247 L1304 251 L1288 184 L1337 206 L1334 136 L1378 175 L1389 105 L1424 158 Z" fill="url(#glow)" stroke="#3f86cc" stroke-width="4" stroke-linejoin="miter"/>
<g fill="none" stroke="#444" stroke-width="3"><path d="M135 180H112V548H135M567 180H590V548H567"/></g>
<g fill="none" stroke="#3d4199" stroke-width="3.2" stroke-linejoin="round">
<path d="M355 300L410 332L410 398L355 430L300 398L300 332ZM355 313L399 339M399 391L355 417M311 391L311 339"/><path d="M355 300V245L392 222M360 252L396 230M355 245L318 222M288 222L250 240L195 213L165 232M130 232L105 215"/>
<path d="M355 430V485L318 507M350 478L314 500M355 485L392 507M422 507L455 488L510 515L548 495M582 495L612 515"/>
<path d="M1055 300L1110 332L1110 398L1055 430L1000 398L1000 332ZM1055 313L1099 339M1099 391L1055 417M1011 391L1011 339"/><path d="M1055 300V245L1092 222M1060 252L1096 230M1055 245L1018 222M1055 430V485L1018 507M1050 478L1014 500M1055 485L1092 507"/>
<path d="M1465 320L1520 352L1520 418L1465 450L1410 418L1410 352ZM1465 333L1509 359M1509 411L1465 437M1421 411L1421 359"/><path d="M1465 320V262L1502 238M1470 269L1506 246M1465 262L1428 238M1465 450V505L1428 522M1460 498L1424 515M1465 505L1502 522M1410 352L1378 333"/>
</g>
<g fill="none" stroke="#222" stroke-width="3"><path d="M535 97H625" marker-end="url(#ahb)" stroke-width="3.5"/><path d="M617 357H885" marker-end="url(#ahc)" stroke-width="2.5"/><path d="M1155 357H1215" marker-end="url(#ahc)" stroke-width="2.5"/>
<path d="M740 357C790 357 812 375 815 405" marker-end="url(#ahb)" stroke-width="2.5"/><path d="M955 120C885 185 890 295 985 330" marker-end="url(#ahb)" stroke-width="2.5"/>
<path d="M735 465L775 440L812 463L850 440"/><path d="M990 182H1005M1100 545H1115M1400 190H1415M1512 548H1527" stroke="#3d4199" stroke-width="2.5"/></g>
</g></svg>
<div class="t " style="left:1883.5px;top:2339.9px;font-size:15.40px;line-height:20px;color:#222;transform:scaleX(1.0509);transform-origin:left center;">Fe(II)-EDTA + H<span style="font-size:62%;position:relative;top:2.5px;">2</span>O<span style="font-size:62%;position:relative;top:2.5px;">2</span></div>
<div class="t " style="left:2068.1px;top:2339.9px;font-size:15.40px;line-height:20px;color:#222;transform:scaleX(1.0465);transform-origin:left center;">Fe(III)-EDTA + OH + OH</div>
<div class="b" style="left:2179.6px;top:2341.0px;width:2.2px;height:2.2px;border-radius:50%;background:#222"></div>
<div class="b" style="left:2218.1px;top:2342.1px;width:5px;height:1.3px;background:#222"></div>
<div class="t " style="left:2414.6px;top:2339.2px;font-size:15.40px;line-height:20px;color:#222;transform:scaleX(1.0727);transform-origin:left center;">λ<span style="font-size:62%;position:relative;top:2.5px;">ex</span> = 328 nm</div>
<div class="t " style="left:2414.6px;top:2359.6px;font-size:15.40px;line-height:20px;color:#222;transform:scaleX(1.0737);transform-origin:left center;">λ<span style="font-size:62%;position:relative;top:2.5px;">em</span> = 421 nm</div>
<div class="t " style="left:1975.3px;top:2381.2px;font-size:16.50px;line-height:21px;color:#3d4199;transform:scaleX(1.0000);transform-origin:center center;">O</div>
<div class="t " style="left:1937.4px;top:2381.2px;font-size:16.50px;line-height:21px;color:#3d4199;transform:scaleX(1.0000);transform-origin:center center;">O</div>
<div class="t " style="left:1882.4px;top:2390.9px;font-size:16.50px;line-height:21px;color:#3d4199;transform:scaleX(1.0000);transform-origin:center center;">O</div>
<div class="t " style="left:1936.7px;top:2489.1px;font-size:16.50px;line-height:21px;color:#3d4199;transform:scaleX(1.0000);transform-origin:center center;">O</div>
<div class="t " style="left:1975.3px;top:2489.1px;font-size:16.50px;line-height:21px;color:#3d4199;transform:scaleX(1.0000);transform-origin:center center;">O</div>
<div class="t " style="left:2031.4px;top:2479.4px;font-size:16.50px;line-height:21px;color:#3d4199;transform:scaleX(1.0000);transform-origin:center center;">O</div>
<div class="t " style="left:2186.7px;top:2381.2px;font-size:16.50px;line-height:21px;color:#3d4199;transform:scaleX(1.0000);transform-origin:center center;">O</div>
<div class="t " style="left:2225.3px;top:2381.2px;font-size:16.50px;line-height:21px;color:#3d4199;transform:scaleX(1.0000);transform-origin:center center;">O</div>
<div class="t " style="left:2186.7px;top:2489.1px;font-size:16.50px;line-height:21px;color:#3d4199;transform:scaleX(1.0000);transform-origin:center center;">O</div>
<div class="t " style="left:2225.3px;top:2489.1px;font-size:16.50px;line-height:21px;color:#3d4199;transform:scaleX(1.0000);transform-origin:center center;">O</div>
<div class="t " style="left:2333.2px;top:2387.3px;font-size:16.50px;line-height:21px;color:#3d4199;transform:scaleX(1.0000);transform-origin:center center;">O</div>
<div class="t " style="left:2371.7px;top:2385.5px;font-size:16.50px;line-height:21px;color:#3d4199;transform:scaleX(1.0000);transform-origin:center center;">O</div>
<div class="t " style="left:2333.2px;top:2493.7px;font-size:16.50px;line-height:21px;color:#3d4199;transform:scaleX(1.0000);transform-origin:center center;">O</div>
<div class="t " style="left:2372.4px;top:2493.7px;font-size:16.50px;line-height:21px;color:#3d4199;transform:scaleX(1.0000);transform-origin:center center;">O</div>
<div class="t " style="left:2303.4px;top:2419.4px;font-size:16.50px;line-height:21px;color:#3d4199;transform:scaleX(1.0000);transform-origin:right center;">HO</div>
<div class="t " style="left:2071.1px;top:2473.7px;font-size:16.50px;line-height:21px;color:#222;transform:scaleX(1.0000);transform-origin:center center;">HO</div>
<div class="t " style="left:2140.8px;top:2463.0px;font-size:16.50px;line-height:21px;color:#222;transform:scaleX(1.0000);transform-origin:center center;">OH</div>
<div class="t " style="left:2109.3px;top:2426.5px;font-size:9.00px;line-height:12px;color:#222;transform:scaleX(1.0000);transform-origin:center center;">i</div>
<div class="t " style="left:2252.6px;top:2429.0px;font-size:9.00px;line-height:12px;color:#222;transform:scaleX(1.0000);transform-origin:center center;">ii</div>
<div class="t " style="left:2104.8px;top:2497.4px;font-size:11.50px;line-height:15px;color:#222;transform:scaleX(1.0000);transform-origin:center center;font-weight:bold;">EG (1)</div>
<div class="t " style="left:2195.1px;top:2519.5px;font-size:11.50px;line-height:15px;color:#222;transform:scaleX(1.0000);transform-origin:center center;font-weight:bold;">TPA (2)</div>
<div class="t " style="left:2330.1px;top:2519.5px;font-size:11.50px;line-height:15px;color:#222;transform:scaleX(1.0000);transform-origin:center center;font-weight:bold;">HOTP (3)</div>
<div class="t " style="left:2069.0px;top:2558.9px;font-size:28.80px;line-height:37px;color:#000;transform:scaleX(0.9976);transform-origin:right center;">Taken from Chaves <span style="font-style:italic;">et al.</span> 2018 [4]</div>
<svg class="b" style="left:1820.0px;top:2580.0px;" width="740.0" height="740.0" viewBox="0 0 740.0 740.0"><g transform="scale(0.38302)"><g fill="#fff" stroke="#c3c9a5" stroke-width="3.5" stroke-linejoin="miter">
<path d="M915 300V340H875L956 415L1037 340H995V300"/><path d="M915 614V652H877L956 727L1037 652H995V614"/></g></g></svg>
<div class="b" style="left:1938.0px;top:2873.0px;width:115.7px;height:194.6px;border:4px solid #9bbb59;border-radius:20px;background:#fff;box-shadow:1px 2px 3px rgba(0,0,0,.35);"></div>
<div class="b" style="left:2065.1px;top:2873.0px;width:115.7px;height:194.6px;border:4px solid #9bbb59;border-radius:20px;background:#fff;box-shadow:1px 2px 3px rgba(0,0,0,.35);"></div>
<div class="b" style="left:2191.5px;top:2873.0px;width:115.7px;height:194.6px;border:4px solid #9bbb59;border-radius:20px;background:#fff;box-shadow:1px 2px 3px rgba(0,0,0,.35);"></div>
<div class="b" style="left:2317.9px;top:2873.0px;width:115.7px;height:194.6px;border:4px solid #9bbb59;border-radius:20px;background:#fff;box-shadow:1px 2px 3px rgba(0,0,0,.35);"></div>
<div class="b" style="left:1952.1px;top:2884.5px;width:86.2px;height:51.7px;background:#b9d0ee;filter:blur(7px);border-radius:10px;"></div>
<div class="t " style="left:1957.1px;top:2884.9px;font-size:19.80px;line-height:26px;color:#000;transform:scaleX(0.9509);transform-origin:center center;font-weight:bold;">Positive</div>
<div class="t " style="left:1956.0px;top:2911.4px;font-size:19.80px;line-height:26px;color:#000;transform:scaleX(0.9513);transform-origin:center center;font-weight:bold;">controls</div>
<div class="t " style="left:2081.3px;top:2884.9px;font-size:19.80px;line-height:26px;color:#000;transform:scaleX(0.9860);transform-origin:center center;font-weight:bold;">Negative</div>
<div class="t " style="left:2083.5px;top:2911.4px;font-size:19.80px;line-height:26px;color:#000;transform:scaleX(0.9513);transform-origin:center center;font-weight:bold;">controls</div>
<div class="t " style="left:2208.2px;top:2884.9px;font-size:19.80px;line-height:26px;color:#000;transform:scaleX(1.0007);transform-origin:center center;font-weight:bold;">Microbial</div>
<div class="t " style="left:2212.6px;top:2911.4px;font-size:19.80px;line-height:26px;color:#000;transform:scaleX(0.9513);transform-origin:center center;font-weight:bold;">controls</div>
<div class="t " style="left:2329.2px;top:2897.2px;font-size:19.80px;line-height:26px;color:#000;transform:scaleX(1.0214);transform-origin:center center;font-weight:bold;">Treatment</div>
<div class="t " style="left:1979.7px;top:2944.2px;font-size:16.38px;line-height:21px;color:#000;transform:scaleX(0.9400);transform-origin:center center;">TPA</div>
<div class="t " style="left:1973.2px;top:2972.8px;font-size:15.75px;line-height:20px;color:#000;transform:scaleX(0.9573);transform-origin:center center;">TPA +</div>
<div class="t " style="left:1949.4px;top:2992.9px;font-size:16.02px;line-height:21px;color:#000;transform:scaleX(0.9544);transform-origin:center center;"><span style="font-style:italic;">I. sakaiensis</span></div>
<div class="t " style="left:1945.2px;top:3027.0px;font-size:17.55px;line-height:23px;color:#000;transform:scaleX(0.9535);transform-origin:center center;">TPA + <span style="font-style:italic;">E. coli</span></div>
<div class="t " style="left:2085.9px;top:2945.5px;font-size:17.46px;line-height:23px;color:#000;transform:scaleX(0.9199);transform-origin:center center;">PET MPs</div>
<div class="t " style="left:2083.1px;top:3018.5px;font-size:15.57px;line-height:20px;color:#000;transform:scaleX(0.9222);transform-origin:center center;">PET MPs +</div>
<div class="t " style="left:2101.4px;top:3039.6px;font-size:15.57px;line-height:20px;color:#000;transform:scaleX(0.9549);transform-origin:center center;"><span style="font-style:italic;">E. coli</span></div>
<div class="t " style="left:2199.4px;top:2979.1px;font-size:18.45px;line-height:24px;color:#000;transform:scaleX(0.9544);transform-origin:center center;"><span style="font-style:italic;">I. sakaiensis</span></div>
<div class="t " style="left:2227.4px;top:3026.3px;font-size:18.09px;line-height:24px;color:#000;transform:scaleX(0.9549);transform-origin:center center;"><span style="font-style:italic;">E. coli</span></div>
<div class="t " style="left:2332.8px;top:2967.3px;font-size:17.55px;line-height:23px;color:#000;transform:scaleX(0.9222);transform-origin:center center;">PET MPs +</div>
<div class="t " style="left:2326.5px;top:2990.6px;font-size:18.45px;line-height:24px;color:#000;transform:scaleX(0.9544);transform-origin:center center;"><span style="font-style:italic;">I. sakaiensis</span></div>
<svg class="b" style="left:1820.0px;top:2580.0px;" width="740.0" height="740.0" viewBox="0 0 740.0 740.0"><g transform="scale(0.38302)"><defs><marker id="ah" viewBox="0 0 10 10" refX="8" refY="5" markerWidth="4.2" markerHeight="4.2" orient="auto-start-reverse"><path d="M0 0L10 5L0 10z"/></marker></defs><g fill="none" stroke="#000" stroke-width="11"><path d="M553 1308V1420H860" marker-end="url(#ah3)"/><path d="M788 1558H878" marker-end="url(#ah3)"/></g>
<defs><marker id="ah3" viewBox="0 0 10 10" refX="3" refY="5" markerWidth="3.4" markerHeight="3.4" orient="auto"><path d="M0 0L10 5L0 10z"/></marker></defs></g></svg>
<div class="t " style="left:1950.2px;top:3143.8px;font-size:26.10px;line-height:34px;color:#000;transform:scaleX(0.9702);transform-origin:left center;">H<span style="font-size:62%;position:relative;top:4.2px;">2</span>O<span style="font-size:62%;position:relative;top:4.2px;">2</span> +  EDTA</div>
<div class="t " style="left:1943.3px;top:3181.0px;font-size:26.10px;line-height:34px;color:#000;transform:scaleX(0.9987);transform-origin:left center;">+ FeSO<span style="font-size:62%;position:relative;top:4.2px;">4</span>·7H<span style="font-size:62%;position:relative;top:4.2px;">2</span>O</div>
<svg class="b" style="left:2181.2px;top:3088.7px;" width="245.9" height="164.3" viewBox="0 0 245.9 164.3"><rect x="1" y="1" width="243.9" height="162.3" rx="6" fill="#fff" stroke="#9a9a9a" stroke-width="1.2"/><rect x="4" y="4" width="237.9" height="156.3" rx="5" fill="none" stroke="#bdbdbd" stroke-width="1"/><path d="M11.0 20.0V144.3L18.0 152.3H228.9V12.0H18.0Z" fill="#fff" stroke="#555" stroke-width="1"/><text x="12.8" y="25.1" font-size="11" fill="#222" text-anchor="middle" font-family="Liberation Sans">A</text><circle cx="27.5" cy="21.9" r="7.3" fill="#29abe2" stroke="#8fd3f0" stroke-width="1.6"/><circle cx="45.0" cy="21.9" r="7.7" fill="#fff" stroke="#222" stroke-width="1"/><circle cx="62.4" cy="21.9" r="7.7" fill="#fff" stroke="#222" stroke-width="1"/><circle cx="79.8" cy="21.9" r="7.7" fill="#fff" stroke="#222" stroke-width="1"/><circle cx="97.2" cy="21.9" r="7.7" fill="#fff" stroke="#222" stroke-width="1"/><circle cx="114.6" cy="21.9" r="7.7" fill="#fff" stroke="#222" stroke-width="1"/><circle cx="132.0" cy="21.9" r="7.7" fill="#fff" stroke="#222" stroke-width="1"/><circle cx="149.4" cy="21.9" r="7.7" fill="#fff" stroke="#222" stroke-width="1"/><circle cx="166.8" cy="21.9" r="7.7" fill="#fff" stroke="#222" stroke-width="1"/><circle cx="184.2" cy="21.9" r="7.7" fill="#fff" stroke="#222" stroke-width="1"/><circle cx="201.6" cy="21.9" r="7.7" fill="#fff" stroke="#222" stroke-width="1"/><circle cx="219.0" cy="21.9" r="7.7" fill="#fff" stroke="#222" stroke-width="1"/><text x="12.8" y="42.3" font-size="11" fill="#222" text-anchor="middle" font-family="Liberation Sans">B</text><circle cx="27.5" cy="39.1" r="7.7" fill="#fff" stroke="#222" stroke-width="1"/><circle cx="45.0" cy="39.1" r="7.7" fill="#fff" stroke="#222" stroke-width="1"/><circle cx="62.4" cy="39.1" r="7.7" fill="#fff" stroke="#222" stroke-width="1"/><circle cx="79.8" cy="39.1" r="7.7" fill="#fff" stroke="#222" stroke-width="1"/><circle cx="97.2" cy="39.1" r="7.7" fill="#fff" stroke="#222" stroke-width="1"/><circle cx="114.6" cy="39.1" r="7.7" fill="#fff" stroke="#222" stroke-width="1"/><circle cx="132.0" cy="39.1" r="7.7" fill="#fff" stroke="#222" stroke-width="1"/><circle cx="149.4" cy="39.1" r="7.7" fill="#fff" stroke="#222" stroke-width="1"/><circle cx="166.8" cy="39.1" r="7.7" fill="#fff" stroke="#222" stroke-width="1"/><circle cx="184.2" cy="39.1" r="7.7" fill="#fff" stroke="#222" stroke-width="1"/><circle cx="201.6" cy="39.1" r="7.7" fill="#fff" stroke="#222" stroke-width="1"/><circle cx="219.0" cy="39.1" r="7.7" fill="#fff" stroke="#222" stroke-width="1"/><text x="12.8" y="59.6" font-size="11" fill="#222" text-anchor="middle" font-family="Liberation Sans">C</text><circle cx="27.5" cy="56.4" r="7.7" fill="#fff" stroke="#222" stroke-width="1"/><circle cx="45.0" cy="56.4" r="7.7" fill="#fff" stroke="#222" stroke-width="1"/><circle cx="62.4" cy="56.4" r="7.7" fill="#fff" stroke="#222" stroke-width="1"/><circle cx="79.8" cy="56.4" r="7.7" fill="#fff" stroke="#222" stroke-width="1"/><circle cx="97.2" cy="56.4" r="7.3" fill="#29abe2" stroke="#8fd3f0" stroke-width="1.6"/><circle cx="114.6" cy="56.4" r="7.7" fill="#fff" stroke="#222" stroke-width="1"/><circle cx="132.0" cy="56.4" r="7.7" fill="#fff" stroke="#222" stroke-width="1"/><circle cx="149.4" cy="56.4" r="7.7" fill="#fff" stroke="#222" stroke-width="1"/><circle cx="166.8" cy="56.4" r="7.7" fill="#fff" stroke="#222" stroke-width="1"/><circle cx="184.2" cy="56.4" r="7.7" fill="#fff" stroke="#222" stroke-width="1"/><circle cx="201.6" cy="56.4" r="7.7" fill="#fff" stroke="#222" stroke-width="1"/><circle cx="219.0" cy="56.4" r="7.7" fill="#fff" stroke="#222" stroke-width="1"/><text x="12.8" y="76.8" font-size="11" fill="#222" text-anchor="middle" font-family="Liberation Sans">D</text><circle cx="27.5" cy="73.6" r="7.7" fill="#fff" stroke="#222" stroke-width="1"/><circle cx="45.0" cy="73.6" r="7.7" fill="#fff" stroke="#222" stroke-width="1"/><circle cx="62.4" cy="73.6" r="7.7" fill="#fff" stroke="#222" stroke-width="1"/><circle cx="79.8" cy="73.6" r="7.7" fill="#fff" stroke="#222" stroke-width="1"/><circle cx="97.2" cy="73.6" r="7.7" fill="#fff" stroke="#222" stroke-width="1"/><circle cx="114.6" cy="73.6" r="7.7" fill="#fff" stroke="#222" stroke-width="1"/><circle cx="132.0" cy="73.6" r="7.7" fill="#fff" stroke="#222" stroke-width="1"/><circle cx="149.4" cy="73.6" r="7.7" fill="#fff" stroke="#222" stroke-width="1"/><circle cx="166.8" cy="73.6" r="7.3" fill="#29abe2" stroke="#8fd3f0" stroke-width="1.6"/><circle cx="184.2" cy="73.6" r="7.7" fill="#fff" stroke="#222" stroke-width="1"/><circle cx="201.6" cy="73.6" r="7.7" fill="#fff" stroke="#222" stroke-width="1"/><circle cx="219.0" cy="73.6" r="7.7" fill="#fff" stroke="#222" stroke-width="1"/><text x="12.8" y="94.1" font-size="11" fill="#222" text-anchor="middle" font-family="Liberation Sans">E</text><circle cx="27.5" cy="90.9" r="7.7" fill="#fff" stroke="#222" stroke-width="1"/><circle cx="45.0" cy="90.9" r="7.7" fill="#fff" stroke="#222" stroke-width="1"/><circle cx="62.4" cy="90.9" r="7.3" fill="#29abe2" stroke="#8fd3f0" stroke-width="1.6"/><circle cx="79.8" cy="90.9" r="7.7" fill="#fff" stroke="#222" stroke-width="1"/><circle cx="97.2" cy="90.9" r="7.7" fill="#fff" stroke="#222" stroke-width="1"/><circle cx="114.6" cy="90.9" r="7.7" fill="#fff" stroke="#222" stroke-width="1"/><circle cx="132.0" cy="90.9" r="7.7" fill="#fff" stroke="#222" stroke-width="1"/><circle cx="149.4" cy="90.9" r="7.7" fill="#fff" stroke="#222" stroke-width="1"/><circle cx="166.8" cy="90.9" r="7.7" fill="#fff" stroke="#222" stroke-width="1"/><circle cx="184.2" cy="90.9" r="7.7" fill="#fff" stroke="#222" stroke-width="1"/><circle cx="201.6" cy="90.9" r="7.7" fill="#fff" stroke="#222" stroke-width="1"/><circle cx="219.0" cy="90.9" r="7.7" fill="#fff" stroke="#222" stroke-width="1"/><text x="12.8" y="111.3" font-size="11" fill="#222" text-anchor="middle" font-family="Liberation Sans">F</text><circle cx="27.5" cy="108.1" r="7.7" fill="#fff" stroke="#222" stroke-width="1"/><circle cx="45.0" cy="108.1" r="7.7" fill="#fff" stroke="#222" stroke-width="1"/><circle cx="62.4" cy="108.1" r="7.7" fill="#fff" stroke="#222" stroke-width="1"/><circle cx="79.8" cy="108.1" r="7.7" fill="#fff" stroke="#222" stroke-width="1"/><circle cx="97.2" cy="108.1" r="7.7" fill="#fff" stroke="#222" stroke-width="1"/><circle cx="114.6" cy="108.1" r="7.7" fill="#fff" stroke="#222" stroke-width="1"/><circle cx="132.0" cy="108.1" r="7.7" fill="#fff" stroke="#222" stroke-width="1"/><circle cx="149.4" cy="108.1" r="7.7" fill="#fff" stroke="#222" stroke-width="1"/><circle cx="166.8" cy="108.1" r="7.7" fill="#fff" stroke="#222" stroke-width="1"/><circle cx="184.2" cy="108.1" r="7.7" fill="#fff" stroke="#222" stroke-width="1"/><circle cx="201.6" cy="108.1" r="7.7" fill="#fff" stroke="#222" stroke-width="1"/><circle cx="219.0" cy="108.1" r="7.7" fill="#fff" stroke="#222" stroke-width="1"/><text x="12.8" y="128.6" font-size="11" fill="#222" text-anchor="middle" font-family="Liberation Sans">G</text><circle cx="27.5" cy="125.4" r="7.7" fill="#fff" stroke="#222" stroke-width="1"/><circle cx="45.0" cy="125.4" r="7.7" fill="#fff" stroke="#222" stroke-width="1"/><circle cx="62.4" cy="125.4" r="7.7" fill="#fff" stroke="#222" stroke-width="1"/><circle cx="79.8" cy="125.4" r="7.7" fill="#fff" stroke="#222" stroke-width="1"/><circle cx="97.2" cy="125.4" r="7.7" fill="#fff" stroke="#222" stroke-width="1"/><circle cx="114.6" cy="125.4" r="7.7" fill="#fff" stroke="#222" stroke-width="1"/><circle cx="132.0" cy="125.4" r="7.7" fill="#fff" stroke="#222" stroke-width="1"/><circle cx="149.4" cy="125.4" r="7.7" fill="#fff" stroke="#222" stroke-width="1"/><circle cx="166.8" cy="125.4" r="7.7" fill="#fff" stroke="#222" stroke-width="1"/><circle cx="184.2" cy="125.4" r="7.7" fill="#fff" stroke="#222" stroke-width="1"/><circle cx="201.6" cy="125.4" r="7.3" fill="#29abe2" stroke="#8fd3f0" stroke-width="1.6"/><circle cx="219.0" cy="125.4" r="7.7" fill="#fff" stroke="#222" stroke-width="1"/><text x="12.8" y="145.8" font-size="11" fill="#222" text-anchor="middle" font-family="Liberation Sans">H</text><circle cx="27.5" cy="142.6" r="7.7" fill="#fff" stroke="#222" stroke-width="1"/><circle cx="45.0" cy="142.6" r="7.7" fill="#fff" stroke="#222" stroke-width="1"/><circle cx="62.4" cy="142.6" r="7.7" fill="#fff" stroke="#222" stroke-width="1"/><circle cx="79.8" cy="142.6" r="7.7" fill="#fff" stroke="#222" stroke-width="1"/><circle cx="97.2" cy="142.6" r="7.7" fill="#fff" stroke="#222" stroke-width="1"/><circle cx="114.6" cy="142.6" r="7.7" fill="#fff" stroke="#222" stroke-width="1"/><circle cx="132.0" cy="142.6" r="7.7" fill="#fff" stroke="#222" stroke-width="1"/><circle cx="149.4" cy="142.6" r="7.7" fill="#fff" stroke="#222" stroke-width="1"/><circle cx="166.8" cy="142.6" r="7.7" fill="#fff" stroke="#222" stroke-width="1"/><circle cx="184.2" cy="142.6" r="7.7" fill="#fff" stroke="#222" stroke-width="1"/><circle cx="201.6" cy="142.6" r="7.7" fill="#fff" stroke="#222" stroke-width="1"/><circle cx="219.0" cy="142.6" r="7.7" fill="#fff" stroke="#222" stroke-width="1"/></svg>
<div class="t " style="left:2589.0px;top:683.8px;font-size:47.70px;line-height:62px;color:#4f81bd;transform:scaleX(1.0469);transform-origin:left center;text-shadow:1px 2px 2px rgba(0,0,0,.2);">Outputs</div>
<div class="t " style="left:2583.6px;top:918.0px;font-size:47.70px;line-height:62px;color:#4f81bd;transform:scaleX(1.0143);transform-origin:left center;text-shadow:1px 2px 2px rgba(0,0,0,.2);">Outcomes</div>
<div class="b" style="left:2601.5px;top:788.4px;width:8.9px;height:8.9px;border-radius:50%;background:#000;"></div>
<div class="t " style="left:2646.0px;top:772.8px;font-size:32.22px;line-height:42px;color:#000;transform:scaleX(1.0455);transform-origin:left center;">A methodology to optimize biodegradation</div>
<div class="t " style="left:2646.0px;top:815.8px;font-size:32.22px;line-height:42px;color:#000;transform:scaleX(1.0130);transform-origin:left center;">capabilities of municipal WWTPs</div>
<div class="b" style="left:2601.5px;top:874.6px;width:8.9px;height:8.9px;border-radius:50%;background:#000;"></div>
<div class="t " style="left:2646.0px;top:859.0px;font-size:32.22px;line-height:42px;color:#000;transform:scaleX(1.0189);transform-origin:left center;">An assessment of the feasibility of this approach</div>
<div class="b" style="left:2599.5px;top:1002.6px;width:8.9px;height:8.9px;border-radius:50%;background:#000;"></div>
<div class="t " style="left:2644.5px;top:987.0px;font-size:32.22px;line-height:42px;color:#000;transform:scaleX(1.0379);transform-origin:left center;">An improved understanding of how microbial</div>
<div class="t " style="left:2644.5px;top:1030.2px;font-size:32.22px;line-height:42px;color:#000;transform:scaleX(1.0316);transform-origin:left center;">consortia can improve human and environmental</div>
<div class="t " style="left:2644.5px;top:1073.3px;font-size:32.22px;line-height:42px;color:#000;transform:scaleX(1.0324);transform-origin:left center;">health via biodegradation of microplastics</div>
<div class="b" style="left:2599.5px;top:1132.3px;width:8.9px;height:8.9px;border-radius:50%;background:#000;"></div>
<div class="t " style="left:2644.5px;top:1116.7px;font-size:32.22px;line-height:42px;color:#000;transform:scaleX(1.0453);transform-origin:left center;">A possible lower-cost alternative to tertiary</div>
<div class="t " style="left:2644.5px;top:1159.9px;font-size:32.22px;line-height:42px;color:#000;transform:scaleX(1.0581);transform-origin:left center;">wastewater treatment for the removal of</div>
<div class="t " style="left:2644.5px;top:1203.0px;font-size:32.22px;line-height:42px;color:#000;transform:scaleX(1.0249);transform-origin:left center;">microplastics</div>
<div class="b" style="left:2586.0px;top:1286.0px;width:812.0px;height:282.0px;border:5.5px solid #4bacc6;border-radius:55px;background:#fff;box-shadow:2px 2px 4px rgba(0,0,0,.25);"></div>
<div class="t " style="left:2847.9px;top:1303.8px;font-size:32.40px;line-height:42px;color:#000;transform:scaleX(0.9720);transform-origin:center center;font-weight:bold;">Planned outreach</div>
<div class="b" style="left:2621.0px;top:1363.2px;width:8.0px;height:8.0px;border-radius:50%;background:#000;"></div>
<div class="t " style="left:2667.5px;top:1349.6px;font-size:28.71px;line-height:37px;color:#000;transform:scaleX(1.0231);transform-origin:left center;">Hold outreach events at canoe livery and popular</div>
<div class="t " style="left:2667.5px;top:1387.7px;font-size:28.71px;line-height:37px;color:#000;transform:scaleX(1.0349);transform-origin:left center;">swimming spots to educate people about how to</div>
<div class="t " style="left:2667.5px;top:1425.9px;font-size:28.71px;line-height:37px;color:#000;transform:scaleX(1.0468);transform-origin:left center;">reduce MP distribution through laundry</div>
<div class="b" style="left:2621.0px;top:1477.9px;width:8.0px;height:8.0px;border-radius:50%;background:#000;"></div>
<div class="t " style="left:2667.5px;top:1464.3px;font-size:28.71px;line-height:37px;color:#000;transform:scaleX(1.0217);transform-origin:left center;">Communicate with local WWTP operators and</div>
<div class="t " style="left:2667.5px;top:1502.4px;font-size:28.71px;line-height:37px;color:#000;transform:scaleX(1.0434);transform-origin:left center;">farmers utilizing to better understand their needs</div>
<div class="b" style="left:2566.2px;top:1721.9px;width:822.2px;height:288.1px;background:#8064a2;border-radius:28px;"></div>
<div class="b" style="left:2566.2px;top:2021.9px;width:822.2px;height:189.5px;background:#5668b8;border-radius:28px;"></div>
<div class="b" style="left:2566.2px;top:2223.3px;width:822.2px;height:191.5px;background:#4bacc6;border-radius:28px;"></div>
<div class="t " style="left:2611.3px;top:1751.6px;font-size:32.40px;line-height:42px;color:#fff;transform:scaleX(0.9385);transform-origin:left center;font-weight:bold;">People</div>
<div class="t " style="left:2599.6px;top:2045.1px;font-size:32.40px;line-height:42px;color:#fff;transform:scaleX(0.9637);transform-origin:left center;font-weight:bold;">Planet</div>
<div class="t " style="left:2589.7px;top:2235.6px;font-size:32.40px;line-height:42px;color:#fff;transform:scaleX(0.9453);transform-origin:left center;font-weight:bold;">Prosperity</div>
<div class="b" style="left:2757.4px;top:1757.1px;width:7.2px;height:7.2px;border-radius:50%;background:#fff;"></div>
<div class="t " style="left:2782.8px;top:1744.5px;font-size:26.01px;line-height:34px;color:#fff;transform:scaleX(1.0379);transform-origin:left center;">strengthening low-income communities by</div>
<div class="t " style="left:2782.8px;top:1779.2px;font-size:26.01px;line-height:34px;color:#fff;transform:scaleX(1.0234);transform-origin:left center;">introducing a low-cost and generalizable</div>
<div class="t " style="left:2782.8px;top:1814.0px;font-size:26.01px;line-height:34px;color:#fff;transform:scaleX(1.0239);transform-origin:left center;">alternative to upgrading municipal WWTPs</div>
<div class="b" style="left:2757.4px;top:1861.8px;width:7.2px;height:7.2px;border-radius:50%;background:#fff;"></div>
<div class="t " style="left:2782.8px;top:1849.2px;font-size:26.01px;line-height:34px;color:#fff;transform:scaleX(1.0423);transform-origin:left center;">strengthening rural communities by mitigating</div>
<div class="t " style="left:2782.8px;top:1883.9px;font-size:26.01px;line-height:34px;color:#fff;transform:scaleX(1.0213);transform-origin:left center;">the risks of using biosolids in agriculture</div>
<div class="b" style="left:2757.4px;top:1931.4px;width:7.2px;height:7.2px;border-radius:50%;background:#fff;"></div>
<div class="t " style="left:2782.8px;top:1918.8px;font-size:26.01px;line-height:34px;color:#fff;transform:scaleX(1.0491);transform-origin:left center;">mitigating plastic pollution that may be harmful</div>
<div class="t " style="left:2782.8px;top:1953.2px;font-size:26.01px;line-height:34px;color:#fff;transform:scaleX(1.0473);transform-origin:left center;">to human health</div>
<div class="b" style="left:2757.0px;top:2056.2px;width:8.0px;height:8.0px;border-radius:50%;background:#fff;"></div>
<div class="t " style="left:2782.8px;top:2042.6px;font-size:28.71px;line-height:37px;color:#fff;transform:scaleX(1.0347);transform-origin:left center;">mitigating MP pollution to aquatic ecosystems</div>
<div class="t " style="left:2782.8px;top:2080.7px;font-size:28.71px;line-height:37px;color:#fff;transform:scaleX(1.0182);transform-origin:left center;">from municipal WWTPs</div>
<div class="b" style="left:2757.0px;top:2132.3px;width:8.0px;height:8.0px;border-radius:50%;background:#fff;"></div>
<div class="t " style="left:2782.8px;top:2118.7px;font-size:28.71px;line-height:37px;color:#fff;transform:scaleX(1.0638);transform-origin:left center;">mitigating MP pollution to terrestrial</div>
<div class="t " style="left:2782.8px;top:2156.8px;font-size:28.71px;line-height:37px;color:#fff;transform:scaleX(1.0152);transform-origin:left center;">ecosystems from biosolids</div>
<div class="b" style="left:2757.0px;top:2239.5px;width:8.0px;height:8.0px;border-radius:50%;background:#fff;"></div>
<div class="t " style="left:2782.8px;top:2225.9px;font-size:28.71px;line-height:37px;color:#fff;transform:scaleX(1.0360);transform-origin:left center;">protecting aquaculture and fishing</div>
<div class="t " style="left:2782.8px;top:2264.0px;font-size:28.71px;line-height:37px;color:#fff;transform:scaleX(1.0318);transform-origin:left center;">industries, which depend on healthy</div>
<div class="t " style="left:2782.8px;top:2302.1px;font-size:28.71px;line-height:37px;color:#fff;transform:scaleX(1.0030);transform-origin:left center;">aquatic ecosystems</div>
<div class="b" style="left:2757.0px;top:2353.8px;width:8.0px;height:8.0px;border-radius:50%;background:#fff;"></div>
<div class="t " style="left:2782.8px;top:2340.2px;font-size:28.71px;line-height:37px;color:#fff;transform:scaleX(1.0413);transform-origin:left center;">promoting circular economy by mitigating</div>
<div class="t " style="left:2782.8px;top:2377.9px;font-size:28.71px;line-height:37px;color:#fff;transform:scaleX(1.0256);transform-origin:left center;">the risks of using biosolids for agriculture</div>
<div class="t " style="left:2571.7px;top:2574.9px;font-size:21.15px;line-height:27px;color:#000;transform:scaleX(1.0268);transform-origin:left center;">[1] F. Murphy, C. Ewins, F. Carbonnier, and B. Quinn, “Wastewater Treatment</div>
<div class="t " style="left:2639.5px;top:2603.7px;font-size:21.15px;line-height:27px;color:#000;transform:scaleX(1.0221);transform-origin:left center;">Works (WwTW) as a Source of Microplastics in the Aquatic Environment,”</div>
<div class="t " style="left:2639.5px;top:2632.5px;font-size:21.15px;line-height:27px;color:#000;transform:scaleX(0.9960);transform-origin:left center;"><span style="font-style:italic;">Environ. Sci. Technol.</span>, vol. 50, no. 11, pp. 5800–5808, Jun. 2016.</div>
<div class="t " style="left:2571.7px;top:2661.3px;font-size:21.15px;line-height:27px;color:#000;transform:scaleX(0.9969);transform-origin:left center;">[2] I. Taniguchi, S. Yoshida, K. Hiraga, K. Miyamoto, Y. Kimura, and K. Oda,</div>
<div class="t " style="left:2639.5px;top:2690.1px;font-size:21.15px;line-height:27px;color:#000;transform:scaleX(1.0083);transform-origin:left center;">“Biodegradation of PET: Current Status and Application Aspects,” <span style="font-style:italic;">ACS</span></div>
<div class="t " style="left:2639.5px;top:2718.9px;font-size:21.15px;line-height:27px;color:#000;transform:scaleX(1.0039);transform-origin:left center;"><span style="font-style:italic;">Catal.</span>, vol. 9, no. 5, pp. 4089–4105, May 2019.</div>
<div class="t " style="left:2571.7px;top:2747.7px;font-size:21.15px;line-height:27px;color:#000;transform:scaleX(1.0186);transform-origin:left center;">[3] S. Yoshida <span style="font-style:italic;">et al.</span>, “A bacterium that degrades and assimilates poly(ethylene</div>
<div class="t " style="left:2639.5px;top:2776.5px;font-size:21.15px;line-height:27px;color:#000;transform:scaleX(1.0218);transform-origin:left center;">terephthalate).,” <span style="font-style:italic;">Science</span>, vol. 351, no. 6278, pp. 1196–9, Mar. 2016.</div>
<div class="t " style="left:2571.7px;top:2805.4px;font-size:21.15px;line-height:27px;color:#000;transform:scaleX(1.0118);transform-origin:left center;">[4] M. R. B. Chaves <span style="font-style:italic;">et al.</span>, “A practical fluorescence-based screening protocol for</div>
<div class="t " style="left:2639.5px;top:2834.2px;font-size:21.15px;line-height:27px;color:#000;transform:scaleX(1.0157);transform-origin:left center;">polyethylene terephthalate degrading microorganisms,” <span style="font-style:italic;">J. Braz. Chem.</span></div>
<div class="t " style="left:2639.5px;top:2863.0px;font-size:21.15px;line-height:27px;color:#000;transform:scaleX(0.9907);transform-origin:left center;"><span style="font-style:italic;">Soc.</span>, vol. 29, no. 6, pp. 1278–1285, Jun. 2018.</div>
<div class="t " style="left:2571.7px;top:2891.8px;font-size:21.15px;line-height:27px;color:#000;transform:scaleX(0.9862);transform-origin:left center;">[5] A. G. Rodríguez-Hernández, J. A. Muñoz-Tabares, J. C. Aguilar-Guzmán, and R.</div>
<div class="t " style="left:2639.5px;top:2920.6px;font-size:21.15px;line-height:27px;color:#000;transform:scaleX(1.0327);transform-origin:left center;">Vazquez-Duhalt, “A novel and simple method for polyethylene</div>
<div class="t " style="left:2639.5px;top:2949.4px;font-size:21.15px;line-height:27px;color:#000;transform:scaleX(1.0152);transform-origin:left center;">terephthalate (PET) nanoparticle production,” <span style="font-style:italic;">Environ. Sci. Nano</span>, vol. 6,</div>
<div class="t " style="left:2639.5px;top:2978.2px;font-size:21.15px;line-height:27px;color:#000;transform:scaleX(1.0083);transform-origin:left center;">no. 7, pp. 2031–2036, 2019.</div>
<div class="t " style="left:2572.8px;top:3151.7px;font-size:24.66px;line-height:32px;color:#000;transform:scaleX(1.0307);transform-origin:left center;">We would like to thank the EPA for supporting the P3 program, Dr.</div>
<div class="t " style="left:2572.8px;top:3185.4px;font-size:24.66px;line-height:32px;color:#000;transform:scaleX(1.0124);transform-origin:left center;">Lutgarde Raskin, Dr. Shelie Miller, and Dr. Melissa Duhaime for</div>
<div class="t " style="left:2572.8px;top:3219.2px;font-size:24.66px;line-height:32px;color:#000;transform:scaleX(1.0019);transform-origin:left center;">feedback, and Connie Bacus and Ben Rodriguez for their aid in</div>
<div class="t " style="left:2572.8px;top:3252.9px;font-size:24.66px;line-height:32px;color:#000;transform:scaleX(1.0241);transform-origin:left center;">applying to and managing the grant.</div>
<svg class="b" style="left:2580.0px;top:1740.0px;" width="200.0" height="220.0" viewBox="0 0 200.0 220.0"><g transform="scale(0.11390)"><g fill="#ccc1da"><circle cx="530" cy="782" r="100"/><circle cx="970" cy="782" r="100"/>
<path d="M470 905H590C680 905 720 960 740 1030L830 1290L745 1335L655 1110V1770H553V1350H510V1770H412V1110L345 1335L262 1290L340 1030C360 960 400 905 470 905Z"/>
<path d="M915 905H1030C1110 905 1150 960 1170 1030L1240 1290L1160 1335L1090 1120L1165 1445H1088V1770H1000V1445H948V1770H860V1445H780L858 1120L800 1335L725 1290L775 1030C795 960 835 905 915 905Z"/></g></g></svg>
<svg class="b" style="left:2580.0px;top:2040.0px;" width="200.0" height="360.0" viewBox="0 0 200.0 360.0"><g transform="scale(0.18639)"><g fill="#c5cae6"><path d="M600 300C560 322 390 325 280 378C175 430 140 545 180 640C215 720 330 770 440 715C560 650 610 480 600 300Z"/>
<path d="M250 660C200 690 160 740 130 780L165 785C195 745 230 715 270 690Z"/></g>
<path d="M375 480L190 650" stroke="#5668b8" stroke-width="17"/>
<g fill="#c0dcea"><ellipse cx="395" cy="1600" rx="240" ry="200"/><path d="M195 1375L300 1425L230 1500Z"/><path d="M190 1520L125 1545Q115 1550 115 1565V1640Q115 1655 130 1660L200 1690Z"/>
<rect x="250" y="1740" width="95" height="100" rx="8"/><rect x="450" y="1740" width="95" height="100" rx="8"/>
<path d="M620 1550C660 1545 700 1540 745 1522L752 1545C720 1560 690 1565 660 1568Z"/></g>
<circle cx="688" cy="1585" r="34" fill="none" stroke="#c0dcea" stroke-width="24"/>
<path d="M335 1452C370 1432 440 1432 475 1455" fill="none" stroke="#4bacc6" stroke-width="20" stroke-linecap="round"/></g></svg>
</body></html>
